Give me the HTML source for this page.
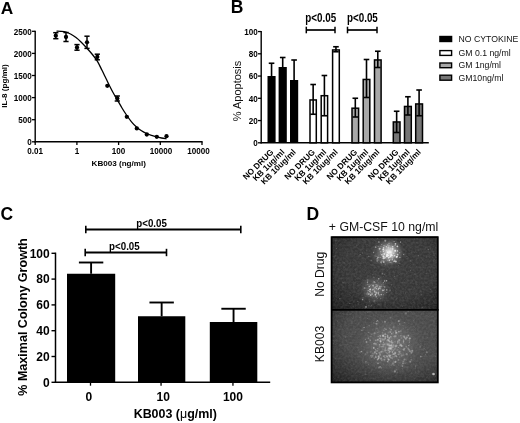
<!DOCTYPE html>
<html><head><meta charset="utf-8"><title>Figure</title>
<style>html,body{margin:0;padding:0;background:#fff}svg{display:block}</style></head>
<body>
<svg width="520" height="423" viewBox="0 0 520 423" font-family="Liberation Sans, Arial, sans-serif">
<rect width="520" height="423" fill="#fff"/>
<text x="0.70" y="13.50" font-size="17.3" font-weight="bold" text-anchor="start" fill="#000" >A</text>
<text x="230.70" y="13.40" font-size="17.5" font-weight="bold" text-anchor="start" fill="#000" >B</text>
<text x="0.60" y="220.20" font-size="17.5" font-weight="bold" text-anchor="start" fill="#000" >C</text>
<text x="306.40" y="220.30" font-size="17.5" font-weight="bold" text-anchor="start" fill="#000" >D</text>
<line x1="35.20" y1="30.70" x2="35.20" y2="142.40" stroke="#000" stroke-width="1.4" />
<line x1="34.60" y1="141.80" x2="202.60" y2="141.80" stroke="#000" stroke-width="1.4" />
<line x1="32.00" y1="141.80" x2="35.20" y2="141.80" stroke="#000" stroke-width="1.3" />
<text transform="translate(31.80,145.00) scale(0.9,1)" font-size="9" font-weight="bold" text-anchor="end" fill="#000">0</text>
<line x1="32.00" y1="119.70" x2="35.20" y2="119.70" stroke="#000" stroke-width="1.3" />
<text transform="translate(31.80,122.90) scale(0.9,1)" font-size="9" font-weight="bold" text-anchor="end" fill="#000">500</text>
<line x1="32.00" y1="97.60" x2="35.20" y2="97.60" stroke="#000" stroke-width="1.3" />
<text transform="translate(31.80,100.80) scale(0.9,1)" font-size="9" font-weight="bold" text-anchor="end" fill="#000">1000</text>
<line x1="32.00" y1="75.50" x2="35.20" y2="75.50" stroke="#000" stroke-width="1.3" />
<text transform="translate(31.80,78.70) scale(0.9,1)" font-size="9" font-weight="bold" text-anchor="end" fill="#000">1500</text>
<line x1="32.00" y1="53.40" x2="35.20" y2="53.40" stroke="#000" stroke-width="1.3" />
<text transform="translate(31.80,56.60) scale(0.9,1)" font-size="9" font-weight="bold" text-anchor="end" fill="#000">2000</text>
<line x1="32.00" y1="31.30" x2="35.20" y2="31.30" stroke="#000" stroke-width="1.3" />
<text transform="translate(31.80,34.50) scale(0.9,1)" font-size="9" font-weight="bold" text-anchor="end" fill="#000">2500</text>
<line x1="35.20" y1="141.80" x2="35.20" y2="145.00" stroke="#000" stroke-width="1.3" />
<text transform="translate(35.20,154.20) scale(0.9,1)" font-size="9" font-weight="bold" text-anchor="middle" fill="#000">0.01</text>
<line x1="76.90" y1="141.80" x2="76.90" y2="145.00" stroke="#000" stroke-width="1.3" />
<text transform="translate(76.90,154.20) scale(0.9,1)" font-size="9" font-weight="bold" text-anchor="middle" fill="#000">1</text>
<line x1="118.60" y1="141.80" x2="118.60" y2="145.00" stroke="#000" stroke-width="1.3" />
<text transform="translate(118.60,154.20) scale(0.9,1)" font-size="9" font-weight="bold" text-anchor="middle" fill="#000">100</text>
<line x1="160.30" y1="141.80" x2="160.30" y2="145.00" stroke="#000" stroke-width="1.3" />
<text transform="translate(160.90,154.20) scale(0.9,1)" font-size="9" font-weight="bold" text-anchor="middle" fill="#000">10000</text>
<line x1="202.00" y1="141.80" x2="202.00" y2="145.00" stroke="#000" stroke-width="1.3" />
<text transform="translate(198.40,154.20) scale(0.9,1)" font-size="9" font-weight="bold" text-anchor="middle" fill="#000">10000</text>
<text x="118.75" y="165.60" font-size="8.1" font-weight="bold" text-anchor="middle" fill="#000" >KB003 (ng/ml)</text>
<text transform="translate(7.40,86.00) rotate(-90)" font-size="8.1" font-weight="bold" text-anchor="middle" fill="#000" >IL-8 (pg/ml)</text>
<path fill="none" stroke="#000" stroke-width="1.3" d="M56.5,31.2 C57.25,31.23 59.42,31.23 61,31.4 C62.58,31.57 64.33,31.72 66,32.2 C67.67,32.68 69.33,33.40 71,34.3 C72.67,35.20 74.33,36.32 76,37.6 C77.67,38.88 79.25,40.32 81,42 C82.75,43.68 84.67,45.70 86.5,47.7 C88.33,49.70 90.20,51.75 92,54 C93.80,56.25 95.63,58.48 97.3,61.2 C98.97,63.92 100.55,67.42 102,70.3 C103.45,73.18 104.60,75.63 106,78.5 C107.40,81.37 109.07,84.87 110.4,87.5 C111.73,90.13 112.85,92.25 114,94.3 C115.15,96.35 115.97,97.52 117.3,99.8 C118.63,102.08 120.47,105.47 122,108 C123.53,110.53 124.92,112.70 126.5,115 C128.08,117.30 129.83,119.80 131.5,121.8 C133.17,123.80 134.83,125.50 136.5,127 C138.17,128.50 139.83,129.72 141.5,130.8 C143.17,131.88 144.83,132.73 146.5,133.5 C148.17,134.27 149.83,134.83 151.5,135.4 C153.17,135.97 154.83,136.47 156.5,136.9 C158.17,137.33 159.83,137.68 161.5,138 C163.17,138.32 165.67,138.67 166.5,138.8"/>
<circle cx="55.8" cy="35.7" r="2.15" fill="#000"/>
<line x1="55.80" y1="32.70" x2="55.80" y2="38.70" stroke="#000" stroke-width="1.5" />
<line x1="53.20" y1="32.70" x2="58.40" y2="32.70" stroke="#000" stroke-width="1.5" />
<line x1="53.20" y1="38.70" x2="58.40" y2="38.70" stroke="#000" stroke-width="1.5" />
<circle cx="66" cy="37" r="2.15" fill="#000"/>
<line x1="66.00" y1="32.50" x2="66.00" y2="41.50" stroke="#000" stroke-width="1.5" />
<line x1="63.40" y1="32.50" x2="68.60" y2="32.50" stroke="#000" stroke-width="1.5" />
<line x1="63.40" y1="41.50" x2="68.60" y2="41.50" stroke="#000" stroke-width="1.5" />
<circle cx="77" cy="47.4" r="2.15" fill="#000"/>
<line x1="77.00" y1="44.60" x2="77.00" y2="50.20" stroke="#000" stroke-width="1.5" />
<line x1="74.40" y1="44.60" x2="79.60" y2="44.60" stroke="#000" stroke-width="1.5" />
<line x1="74.40" y1="50.20" x2="79.60" y2="50.20" stroke="#000" stroke-width="1.5" />
<circle cx="87" cy="42.3" r="2.15" fill="#000"/>
<line x1="87.00" y1="36.20" x2="87.00" y2="48.40" stroke="#000" stroke-width="1.5" />
<line x1="84.40" y1="36.20" x2="89.60" y2="36.20" stroke="#000" stroke-width="1.5" />
<line x1="84.40" y1="48.40" x2="89.60" y2="48.40" stroke="#000" stroke-width="1.5" />
<circle cx="97.3" cy="57" r="2.15" fill="#000"/>
<line x1="97.30" y1="54.20" x2="97.30" y2="59.80" stroke="#000" stroke-width="1.5" />
<line x1="94.70" y1="54.20" x2="99.90" y2="54.20" stroke="#000" stroke-width="1.5" />
<line x1="94.70" y1="59.80" x2="99.90" y2="59.80" stroke="#000" stroke-width="1.5" />
<circle cx="107.3" cy="85.8" r="2.15" fill="#000"/>
<circle cx="117.3" cy="98.5" r="2.15" fill="#000"/>
<line x1="117.30" y1="96.00" x2="117.30" y2="101.00" stroke="#000" stroke-width="1.5" />
<line x1="114.70" y1="96.00" x2="119.90" y2="96.00" stroke="#000" stroke-width="1.5" />
<line x1="114.70" y1="101.00" x2="119.90" y2="101.00" stroke="#000" stroke-width="1.5" />
<circle cx="126.8" cy="116.8" r="2.15" fill="#000"/>
<circle cx="136.8" cy="128.4" r="2.15" fill="#000"/>
<circle cx="146.8" cy="134.5" r="2.15" fill="#000"/>
<circle cx="156.8" cy="136.8" r="2.15" fill="#000"/>
<circle cx="166.5" cy="136.2" r="2.15" fill="#000"/>
<line x1="261.20" y1="30.95" x2="261.20" y2="143.40" stroke="#000" stroke-width="1.4" />
<line x1="260.60" y1="142.80" x2="428.80" y2="142.80" stroke="#000" stroke-width="1.4" />
<line x1="258.00" y1="142.80" x2="261.20" y2="142.80" stroke="#000" stroke-width="1.3" />
<text transform="translate(257.80,146.00) scale(0.9,1)" font-size="9" font-weight="bold" text-anchor="end" fill="#000">0</text>
<line x1="258.00" y1="120.55" x2="261.20" y2="120.55" stroke="#000" stroke-width="1.3" />
<text transform="translate(257.80,123.75) scale(0.9,1)" font-size="9" font-weight="bold" text-anchor="end" fill="#000">20</text>
<line x1="258.00" y1="98.30" x2="261.20" y2="98.30" stroke="#000" stroke-width="1.3" />
<text transform="translate(257.80,101.50) scale(0.9,1)" font-size="9" font-weight="bold" text-anchor="end" fill="#000">40</text>
<line x1="258.00" y1="76.05" x2="261.20" y2="76.05" stroke="#000" stroke-width="1.3" />
<text transform="translate(257.80,79.25) scale(0.9,1)" font-size="9" font-weight="bold" text-anchor="end" fill="#000">60</text>
<line x1="258.00" y1="53.80" x2="261.20" y2="53.80" stroke="#000" stroke-width="1.3" />
<text transform="translate(257.80,57.00) scale(0.9,1)" font-size="9" font-weight="bold" text-anchor="end" fill="#000">80</text>
<line x1="258.00" y1="31.55" x2="261.20" y2="31.55" stroke="#000" stroke-width="1.3" />
<text transform="translate(257.80,34.75) scale(0.9,1)" font-size="9" font-weight="bold" text-anchor="end" fill="#000">100</text>
<text transform="translate(240.60,91.00) rotate(-90)" font-size="11" font-weight="normal" text-anchor="middle" fill="#111" >% Apoptosis</text>
<rect x="267.50" y="76.00" width="8.10" height="66.80" fill="#000" stroke="none" stroke-width="1"/>
<line x1="271.55" y1="63.25" x2="271.55" y2="76.00" stroke="#000" stroke-width="1.6" />
<line x1="268.75" y1="63.25" x2="274.35" y2="63.25" stroke="#000" stroke-width="1.6" />
<rect x="278.60" y="67.00" width="8.20" height="75.80" fill="#000" stroke="none" stroke-width="1"/>
<line x1="282.70" y1="57.50" x2="282.70" y2="67.00" stroke="#000" stroke-width="1.6" />
<line x1="279.90" y1="57.50" x2="285.50" y2="57.50" stroke="#000" stroke-width="1.6" />
<rect x="290.00" y="80.00" width="8.20" height="62.80" fill="#000" stroke="none" stroke-width="1"/>
<line x1="294.10" y1="60.00" x2="294.10" y2="80.00" stroke="#000" stroke-width="1.6" />
<line x1="291.30" y1="60.00" x2="296.90" y2="60.00" stroke="#000" stroke-width="1.6" />
<rect x="310.00" y="99.95" width="6.30" height="42.85" fill="#fff" stroke="#000" stroke-width="1.5"/>
<line x1="313.15" y1="84.50" x2="313.15" y2="114.25" stroke="#000" stroke-width="1.6" />
<line x1="310.35" y1="84.50" x2="315.95" y2="84.50" stroke="#000" stroke-width="1.6" />
<line x1="310.35" y1="114.25" x2="315.95" y2="114.25" stroke="#000" stroke-width="1.6" />
<rect x="321.20" y="95.70" width="6.40" height="47.10" fill="#fff" stroke="#000" stroke-width="1.5"/>
<line x1="324.40" y1="75.50" x2="324.40" y2="115.75" stroke="#000" stroke-width="1.6" />
<line x1="321.60" y1="75.50" x2="327.20" y2="75.50" stroke="#000" stroke-width="1.6" />
<line x1="321.60" y1="115.75" x2="327.20" y2="115.75" stroke="#000" stroke-width="1.6" />
<rect x="332.60" y="49.95" width="6.70" height="92.85" fill="#fff" stroke="#000" stroke-width="1.5"/>
<line x1="335.95" y1="46.75" x2="335.95" y2="51.75" stroke="#000" stroke-width="1.6" />
<line x1="333.15" y1="46.75" x2="338.75" y2="46.75" stroke="#000" stroke-width="1.6" />
<line x1="333.15" y1="51.75" x2="338.75" y2="51.75" stroke="#000" stroke-width="1.6" />
<rect x="352.00" y="108.20" width="6.60" height="34.60" fill="#a8a8a8" stroke="#000" stroke-width="1.5"/>
<line x1="355.30" y1="98.25" x2="355.30" y2="117.00" stroke="#000" stroke-width="1.6" />
<line x1="352.50" y1="98.25" x2="358.10" y2="98.25" stroke="#000" stroke-width="1.6" />
<line x1="352.50" y1="117.00" x2="358.10" y2="117.00" stroke="#000" stroke-width="1.6" />
<rect x="363.20" y="79.45" width="6.60" height="63.35" fill="#a8a8a8" stroke="#000" stroke-width="1.5"/>
<line x1="366.50" y1="59.50" x2="366.50" y2="97.50" stroke="#000" stroke-width="1.6" />
<line x1="363.70" y1="59.50" x2="369.30" y2="59.50" stroke="#000" stroke-width="1.6" />
<line x1="363.70" y1="97.50" x2="369.30" y2="97.50" stroke="#000" stroke-width="1.6" />
<rect x="374.50" y="59.95" width="6.60" height="82.85" fill="#a8a8a8" stroke="#000" stroke-width="1.5"/>
<line x1="377.80" y1="51.25" x2="377.80" y2="67.50" stroke="#000" stroke-width="1.6" />
<line x1="375.00" y1="51.25" x2="380.60" y2="51.25" stroke="#000" stroke-width="1.6" />
<line x1="375.00" y1="67.50" x2="380.60" y2="67.50" stroke="#000" stroke-width="1.6" />
<rect x="393.30" y="121.95" width="6.70" height="20.85" fill="#767676" stroke="#000" stroke-width="1.5"/>
<line x1="396.65" y1="111.25" x2="396.65" y2="132.50" stroke="#000" stroke-width="1.6" />
<line x1="393.85" y1="111.25" x2="399.45" y2="111.25" stroke="#000" stroke-width="1.6" />
<line x1="393.85" y1="132.50" x2="399.45" y2="132.50" stroke="#000" stroke-width="1.6" />
<rect x="404.50" y="106.45" width="6.80" height="36.35" fill="#767676" stroke="#000" stroke-width="1.5"/>
<line x1="407.90" y1="96.75" x2="407.90" y2="115.00" stroke="#000" stroke-width="1.6" />
<line x1="405.10" y1="96.75" x2="410.70" y2="96.75" stroke="#000" stroke-width="1.6" />
<line x1="405.10" y1="115.00" x2="410.70" y2="115.00" stroke="#000" stroke-width="1.6" />
<rect x="415.70" y="103.95" width="6.80" height="38.85" fill="#767676" stroke="#000" stroke-width="1.5"/>
<line x1="419.10" y1="90.00" x2="419.10" y2="115.75" stroke="#000" stroke-width="1.6" />
<line x1="416.30" y1="90.00" x2="421.90" y2="90.00" stroke="#000" stroke-width="1.6" />
<line x1="416.30" y1="115.75" x2="421.90" y2="115.75" stroke="#000" stroke-width="1.6" />
<text transform="translate(273.95,152.60) rotate(-45)" font-size="8.3" font-weight="bold" text-anchor="end" fill="#000" >NO DRUG</text>
<text transform="translate(285.10,152.60) rotate(-45)" font-size="8.3" font-weight="bold" text-anchor="end" fill="#000" >KB 1ug/ml</text>
<text transform="translate(296.50,152.60) rotate(-45)" font-size="8.3" font-weight="bold" text-anchor="end" fill="#000" >KB 10ug/ml</text>
<text transform="translate(315.55,152.60) rotate(-45)" font-size="8.3" font-weight="bold" text-anchor="end" fill="#000" >NO DRUG</text>
<text transform="translate(326.80,152.60) rotate(-45)" font-size="8.3" font-weight="bold" text-anchor="end" fill="#000" >KB 1ug/ml</text>
<text transform="translate(338.35,152.60) rotate(-45)" font-size="8.3" font-weight="bold" text-anchor="end" fill="#000" >KB 10ug/ml</text>
<text transform="translate(357.70,152.60) rotate(-45)" font-size="8.3" font-weight="bold" text-anchor="end" fill="#000" >NO DRUG</text>
<text transform="translate(368.90,152.60) rotate(-45)" font-size="8.3" font-weight="bold" text-anchor="end" fill="#000" >KB 1ug/ml</text>
<text transform="translate(380.20,152.60) rotate(-45)" font-size="8.3" font-weight="bold" text-anchor="end" fill="#000" >KB 10ug/ml</text>
<text transform="translate(399.05,152.60) rotate(-45)" font-size="8.3" font-weight="bold" text-anchor="end" fill="#000" >NO DRUG</text>
<text transform="translate(410.30,152.60) rotate(-45)" font-size="8.3" font-weight="bold" text-anchor="end" fill="#000" >KB 1ug/ml</text>
<text transform="translate(421.50,152.60) rotate(-45)" font-size="8.3" font-weight="bold" text-anchor="end" fill="#000" >KB 10ug/ml</text>
<line x1="306.30" y1="30.00" x2="335.00" y2="30.00" stroke="#000" stroke-width="1.7" />
<line x1="306.30" y1="26.70" x2="306.30" y2="33.30" stroke="#000" stroke-width="1.5" />
<line x1="335.00" y1="26.70" x2="335.00" y2="33.30" stroke="#000" stroke-width="1.5" />
<text transform="translate(320.7,22.3) scale(0.80,1)" font-size="12.3" font-weight="bold" text-anchor="middle">p&lt;0.05</text>
<line x1="347.50" y1="30.00" x2="377.00" y2="30.00" stroke="#000" stroke-width="1.7" />
<line x1="347.50" y1="26.70" x2="347.50" y2="33.30" stroke="#000" stroke-width="1.5" />
<line x1="377.00" y1="26.70" x2="377.00" y2="33.30" stroke="#000" stroke-width="1.5" />
<text transform="translate(362.4,22.3) scale(0.80,1)" font-size="12.3" font-weight="bold" text-anchor="middle">p&lt;0.05</text>
<rect x="439.20" y="35.80" width="13.10" height="6.40" fill="#000" stroke="none" stroke-width="1"/>
<text x="458.50" y="41.80" font-size="8.7" font-weight="normal" text-anchor="start" fill="#111" >NO CYTOKINE</text>
<rect x="439.90" y="50.60" width="11.70" height="4.80" fill="#fff" stroke="#000" stroke-width="1.4"/>
<text x="458.50" y="56.00" font-size="8.7" font-weight="normal" text-anchor="start" fill="#111" >GM 0.1 ng/ml</text>
<rect x="439.90" y="63.00" width="11.70" height="4.70" fill="#a8a8a8" stroke="#000" stroke-width="1.4"/>
<text x="458.50" y="67.90" font-size="8.7" font-weight="normal" text-anchor="start" fill="#111" >GM 1ng/ml</text>
<rect x="439.90" y="75.20" width="11.70" height="5.00" fill="#767676" stroke="#000" stroke-width="1.4"/>
<text x="458.50" y="80.60" font-size="8.7" font-weight="normal" text-anchor="start" fill="#111" >GM10ng/ml</text>
<line x1="55.50" y1="252.60" x2="55.50" y2="383.00" stroke="#000" stroke-width="1.5" />
<line x1="54.80" y1="382.30" x2="270.20" y2="382.30" stroke="#000" stroke-width="1.5" />
<line x1="51.50" y1="382.30" x2="55.50" y2="382.30" stroke="#000" stroke-width="1.4" />
<text x="49.70" y="386.50" font-size="12" font-weight="bold" text-anchor="end" fill="#000" >0</text>
<line x1="51.50" y1="356.50" x2="55.50" y2="356.50" stroke="#000" stroke-width="1.4" />
<text x="49.70" y="360.70" font-size="12" font-weight="bold" text-anchor="end" fill="#000" >20</text>
<line x1="51.50" y1="330.70" x2="55.50" y2="330.70" stroke="#000" stroke-width="1.4" />
<text x="49.70" y="334.90" font-size="12" font-weight="bold" text-anchor="end" fill="#000" >40</text>
<line x1="51.50" y1="304.90" x2="55.50" y2="304.90" stroke="#000" stroke-width="1.4" />
<text x="49.70" y="309.10" font-size="12" font-weight="bold" text-anchor="end" fill="#000" >60</text>
<line x1="51.50" y1="279.10" x2="55.50" y2="279.10" stroke="#000" stroke-width="1.4" />
<text x="49.70" y="283.30" font-size="12" font-weight="bold" text-anchor="end" fill="#000" >80</text>
<line x1="51.50" y1="253.30" x2="55.50" y2="253.30" stroke="#000" stroke-width="1.4" />
<text x="49.70" y="257.50" font-size="12" font-weight="bold" text-anchor="end" fill="#000" >100</text>
<rect x="67.00" y="273.75" width="48.20" height="108.55" fill="#000" stroke="none" stroke-width="1"/>
<line x1="91.10" y1="262.50" x2="91.10" y2="273.75" stroke="#000" stroke-width="1.9" />
<line x1="78.90" y1="262.50" x2="103.30" y2="262.50" stroke="#000" stroke-width="1.9" />
<line x1="90.50" y1="382.30" x2="90.50" y2="385.70" stroke="#000" stroke-width="1.3" />
<text x="88.80" y="401.40" font-size="12" font-weight="bold" text-anchor="middle" fill="#000" >0</text>
<rect x="138.00" y="316.25" width="47.30" height="66.05" fill="#000" stroke="none" stroke-width="1"/>
<line x1="161.65" y1="302.50" x2="161.65" y2="316.25" stroke="#000" stroke-width="1.9" />
<line x1="149.45" y1="302.50" x2="173.85" y2="302.50" stroke="#000" stroke-width="1.9" />
<line x1="161.05" y1="382.30" x2="161.05" y2="385.70" stroke="#000" stroke-width="1.3" />
<text x="163.20" y="401.40" font-size="12" font-weight="bold" text-anchor="middle" fill="#000" >10</text>
<rect x="209.80" y="322.00" width="47.50" height="60.30" fill="#000" stroke="none" stroke-width="1"/>
<line x1="233.55" y1="308.75" x2="233.55" y2="322.00" stroke="#000" stroke-width="1.9" />
<line x1="221.35" y1="308.75" x2="245.75" y2="308.75" stroke="#000" stroke-width="1.9" />
<line x1="232.95" y1="382.30" x2="232.95" y2="385.70" stroke="#000" stroke-width="1.3" />
<text x="232.90" y="401.40" font-size="12" font-weight="bold" text-anchor="middle" fill="#000" >100</text>
<text transform="translate(27.40,317.00) rotate(-90)" font-size="12.2" font-weight="bold" text-anchor="middle" fill="#000" textLength="157.5" lengthAdjust="spacingAndGlyphs">% Maximal Colony Growth</text>
<text x="175.3" y="418" font-size="12.3" font-weight="bold" text-anchor="middle" textLength="83.3" lengthAdjust="spacingAndGlyphs">KB003 (<tspan font-weight="normal">μ</tspan>g/ml)</text>
<line x1="85.80" y1="229.50" x2="240.80" y2="229.50" stroke="#000" stroke-width="1.9" />
<line x1="85.80" y1="225.80" x2="85.80" y2="233.20" stroke="#000" stroke-width="1.6" />
<line x1="240.80" y1="225.80" x2="240.80" y2="233.20" stroke="#000" stroke-width="1.6" />
<text transform="translate(151.6,227.0) scale(0.84,1)" font-size="11.6" font-weight="bold" text-anchor="middle">p&lt;0.05</text>
<line x1="85.20" y1="252.50" x2="166.50" y2="252.50" stroke="#000" stroke-width="1.9" />
<line x1="85.20" y1="248.80" x2="85.20" y2="256.20" stroke="#000" stroke-width="1.6" />
<line x1="166.50" y1="248.80" x2="166.50" y2="256.20" stroke="#000" stroke-width="1.6" />
<text transform="translate(124.4,250.0) scale(0.84,1)" font-size="11.6" font-weight="bold" text-anchor="middle">p&lt;0.05</text>
<text x="328.80" y="231.00" font-size="12.3" font-weight="normal" text-anchor="start" fill="#111" textLength="109.5" lengthAdjust="spacingAndGlyphs">+ GM-CSF 10 ng/ml</text>
<text transform="translate(323.60,274.30) rotate(-90)" font-size="12.1" font-weight="normal" text-anchor="middle" fill="#111" >No Drug</text>
<text transform="translate(324.30,344.00) rotate(-90)" font-size="12.1" font-weight="normal" text-anchor="middle" fill="#111" >KB003</text>
<defs>
<radialGradient id="g1"><stop offset="0" stop-color="#fff" stop-opacity="0.95"/><stop offset="0.25" stop-color="#e8e8e8" stop-opacity="0.7"/><stop offset="0.6" stop-color="#aaa" stop-opacity="0.3"/><stop offset="1" stop-color="#777" stop-opacity="0"/></radialGradient>
<radialGradient id="g2"><stop offset="0" stop-color="#ddd" stop-opacity="0.5"/><stop offset="0.45" stop-color="#bbb" stop-opacity="0.3"/><stop offset="1" stop-color="#777" stop-opacity="0"/></radialGradient>
<radialGradient id="g3"><stop offset="0" stop-color="#ccc" stop-opacity="0.30"/><stop offset="0.55" stop-color="#aaa" stop-opacity="0.18"/><stop offset="1" stop-color="#777" stop-opacity="0"/></radialGradient>
<radialGradient id="vg" cx="0.55" cy="0.4" r="0.8"><stop offset="0" stop-color="#000" stop-opacity="0"/><stop offset="0.55" stop-color="#000" stop-opacity="0.06"/><stop offset="1" stop-color="#000" stop-opacity="0.5"/></radialGradient>
<radialGradient id="vg2" cx="0.6" cy="0.35" r="0.85"><stop offset="0" stop-color="#000" stop-opacity="0"/><stop offset="0.55" stop-color="#000" stop-opacity="0.08"/><stop offset="1" stop-color="#000" stop-opacity="0.6"/></radialGradient>
<filter id="nz" x="0" y="0" width="1" height="1"><feTurbulence type="fractalNoise" baseFrequency="0.45" numOctaves="2" seed="4"/><feColorMatrix type="matrix" values="0 0 0 0 1  0 0 0 0 1  0 0 0 0 1  0.9 0.9 0.9 0 -1.05"/></filter>
<filter id="bl" x="-0.1" y="-0.1" width="1.2" height="1.2"><feGaussianBlur stdDeviation="0.35"/></filter>
<clipPath id="c1"><rect x="331.5" y="236.5" width="106.5" height="73"/></clipPath>
<clipPath id="c2"><rect x="331.5" y="309.5" width="106.5" height="73"/></clipPath>
</defs>
<rect x="331.50" y="236.50" width="106.50" height="73.00" fill="#393939" stroke="none" stroke-width="1"/>
<g clip-path="url(#c1)">
<rect x="331.5" y="236.5" width="106.5" height="73" fill="url(#vg)"/>
<rect x="331.5" y="236.5" width="106.5" height="73" filter="url(#nz)" opacity="0.13"/>
<ellipse cx="387" cy="254" rx="19" ry="16" fill="url(#g2)" opacity="0.7"/>
<ellipse cx="389.5" cy="252" rx="14.5" ry="14" fill="url(#g1)"/>
<ellipse cx="375" cy="289.5" rx="17" ry="16" fill="url(#g2)" opacity="0.75"/>
<g filter="url(#bl)">
<circle cx="387.5" cy="255.6" r="0.79" fill="#fff" fill-opacity="0.34"/>
<circle cx="383.4" cy="251.2" r="0.43" fill="#fff" fill-opacity="0.55"/>
<circle cx="395.2" cy="254.0" r="0.44" fill="#fff" fill-opacity="0.35"/>
<circle cx="379.0" cy="257.6" r="0.47" fill="#fff" fill-opacity="0.41"/>
<circle cx="378.9" cy="242.0" r="0.75" fill="#fff" fill-opacity="0.50"/>
<circle cx="390.8" cy="252.2" r="0.92" fill="#fff" fill-opacity="0.44"/>
<circle cx="390.9" cy="254.9" r="0.59" fill="#fff" fill-opacity="0.71"/>
<circle cx="392.3" cy="259.7" r="0.78" fill="#fff" fill-opacity="0.49"/>
<circle cx="386.9" cy="251.9" r="0.44" fill="#fff" fill-opacity="0.40"/>
<circle cx="386.3" cy="246.8" r="0.59" fill="#fff" fill-opacity="0.59"/>
<circle cx="384.2" cy="254.0" r="0.88" fill="#fff" fill-opacity="0.65"/>
<circle cx="389.3" cy="260.3" r="0.72" fill="#fff" fill-opacity="0.74"/>
<circle cx="388.4" cy="247.6" r="0.99" fill="#fff" fill-opacity="0.36"/>
<circle cx="380.2" cy="257.5" r="0.49" fill="#fff" fill-opacity="0.54"/>
<circle cx="397.6" cy="254.7" r="0.86" fill="#fff" fill-opacity="0.59"/>
<circle cx="392.7" cy="248.8" r="0.82" fill="#fff" fill-opacity="0.60"/>
<circle cx="383.2" cy="249.3" r="0.90" fill="#fff" fill-opacity="0.77"/>
<circle cx="380.3" cy="253.9" r="0.44" fill="#fff" fill-opacity="0.65"/>
<circle cx="377.6" cy="237.4" r="0.89" fill="#fff" fill-opacity="0.44"/>
<circle cx="382.3" cy="258.4" r="0.41" fill="#fff" fill-opacity="0.53"/>
<circle cx="390.5" cy="255.1" r="0.44" fill="#fff" fill-opacity="0.68"/>
<circle cx="392.1" cy="255.8" r="0.63" fill="#fff" fill-opacity="0.74"/>
<circle cx="394.7" cy="255.7" r="0.73" fill="#fff" fill-opacity="0.74"/>
<circle cx="394.1" cy="241.6" r="0.57" fill="#fff" fill-opacity="0.51"/>
<circle cx="381.1" cy="262.2" r="0.97" fill="#fff" fill-opacity="0.38"/>
<circle cx="390.9" cy="256.4" r="0.54" fill="#fff" fill-opacity="0.54"/>
<circle cx="385.0" cy="250.0" r="0.40" fill="#fff" fill-opacity="0.51"/>
<circle cx="383.7" cy="258.2" r="0.97" fill="#fff" fill-opacity="0.65"/>
<circle cx="380.7" cy="251.7" r="0.81" fill="#fff" fill-opacity="0.33"/>
<circle cx="397.4" cy="246.3" r="0.92" fill="#fff" fill-opacity="0.70"/>
<circle cx="384.3" cy="256.3" r="0.46" fill="#fff" fill-opacity="0.62"/>
<circle cx="391.1" cy="253.4" r="0.53" fill="#fff" fill-opacity="0.38"/>
<circle cx="387.9" cy="254.2" r="0.40" fill="#fff" fill-opacity="0.38"/>
<circle cx="393.6" cy="255.9" r="0.42" fill="#fff" fill-opacity="0.74"/>
<circle cx="386.4" cy="250.3" r="0.55" fill="#fff" fill-opacity="0.47"/>
<circle cx="387.0" cy="254.8" r="0.91" fill="#fff" fill-opacity="0.80"/>
<circle cx="382.3" cy="254.0" r="0.45" fill="#fff" fill-opacity="0.35"/>
<circle cx="386.4" cy="256.4" r="0.90" fill="#fff" fill-opacity="0.38"/>
<circle cx="403.6" cy="254.6" r="0.72" fill="#fff" fill-opacity="0.37"/>
<circle cx="387.6" cy="252.1" r="0.72" fill="#fff" fill-opacity="0.79"/>
<circle cx="395.1" cy="245.5" r="0.56" fill="#fff" fill-opacity="0.48"/>
<circle cx="394.1" cy="261.4" r="0.72" fill="#fff" fill-opacity="0.69"/>
<circle cx="387.0" cy="256.2" r="0.89" fill="#fff" fill-opacity="0.79"/>
<circle cx="395.5" cy="243.8" r="0.89" fill="#fff" fill-opacity="0.67"/>
<circle cx="390.1" cy="259.7" r="0.61" fill="#fff" fill-opacity="0.31"/>
<circle cx="393.8" cy="253.3" r="0.56" fill="#fff" fill-opacity="0.65"/>
<circle cx="395.3" cy="250.7" r="0.96" fill="#fff" fill-opacity="0.79"/>
<circle cx="394.5" cy="250.9" r="0.53" fill="#fff" fill-opacity="0.41"/>
<circle cx="390.3" cy="256.3" r="0.77" fill="#fff" fill-opacity="0.75"/>
<circle cx="392.7" cy="246.7" r="0.79" fill="#fff" fill-opacity="0.70"/>
<circle cx="396.6" cy="257.0" r="0.95" fill="#fff" fill-opacity="0.69"/>
<circle cx="389.0" cy="245.7" r="0.51" fill="#fff" fill-opacity="0.69"/>
<circle cx="383.7" cy="261.9" r="0.98" fill="#fff" fill-opacity="0.50"/>
<circle cx="377.2" cy="260.9" r="0.83" fill="#fff" fill-opacity="0.39"/>
<circle cx="391.4" cy="255.0" r="0.94" fill="#fff" fill-opacity="0.70"/>
<circle cx="395.8" cy="261.4" r="0.99" fill="#fff" fill-opacity="0.63"/>
<circle cx="384.5" cy="258.6" r="0.48" fill="#fff" fill-opacity="0.31"/>
<circle cx="397.5" cy="250.9" r="0.72" fill="#fff" fill-opacity="0.77"/>
<circle cx="377.9" cy="257.4" r="0.90" fill="#fff" fill-opacity="0.41"/>
<circle cx="388.9" cy="257.5" r="0.54" fill="#fff" fill-opacity="0.59"/>
<circle cx="388.6" cy="258.7" r="0.48" fill="#fff" fill-opacity="0.76"/>
<circle cx="385.0" cy="257.8" r="0.75" fill="#fff" fill-opacity="0.75"/>
<circle cx="377.2" cy="258.9" r="0.70" fill="#fff" fill-opacity="0.57"/>
<circle cx="387.8" cy="252.3" r="0.66" fill="#fff" fill-opacity="0.39"/>
<circle cx="399.7" cy="252.8" r="0.50" fill="#fff" fill-opacity="0.54"/>
<circle cx="387.8" cy="244.9" r="0.60" fill="#fff" fill-opacity="0.56"/>
<circle cx="379.1" cy="248.9" r="0.46" fill="#fff" fill-opacity="0.58"/>
<circle cx="389.0" cy="257.3" r="0.86" fill="#fff" fill-opacity="0.55"/>
<circle cx="379.6" cy="248.7" r="0.95" fill="#fff" fill-opacity="0.52"/>
<circle cx="383.6" cy="247.9" r="0.71" fill="#fff" fill-opacity="0.65"/>
<circle cx="381.9" cy="254.7" r="0.69" fill="#fff" fill-opacity="0.77"/>
<circle cx="385.2" cy="240.8" r="0.97" fill="#fff" fill-opacity="0.43"/>
<circle cx="375.6" cy="247.2" r="0.90" fill="#fff" fill-opacity="0.37"/>
<circle cx="393.7" cy="257.0" r="0.44" fill="#fff" fill-opacity="0.42"/>
<circle cx="397.0" cy="256.5" r="0.87" fill="#fff" fill-opacity="0.75"/>
<circle cx="394.4" cy="260.4" r="0.80" fill="#fff" fill-opacity="0.37"/>
<circle cx="400.6" cy="242.0" r="0.53" fill="#fff" fill-opacity="0.78"/>
<circle cx="383.4" cy="256.6" r="0.99" fill="#fff" fill-opacity="0.72"/>
<circle cx="392.4" cy="257.9" r="0.71" fill="#fff" fill-opacity="0.47"/>
<circle cx="390.8" cy="257.5" r="0.83" fill="#fff" fill-opacity="0.31"/>
<circle cx="382.9" cy="250.3" r="0.41" fill="#fff" fill-opacity="0.47"/>
<circle cx="383.9" cy="247.5" r="0.44" fill="#fff" fill-opacity="0.79"/>
<circle cx="392.7" cy="255.4" r="0.42" fill="#fff" fill-opacity="0.69"/>
<circle cx="388.6" cy="255.6" r="0.65" fill="#fff" fill-opacity="0.76"/>
<circle cx="390.9" cy="248.3" r="0.49" fill="#fff" fill-opacity="0.76"/>
<circle cx="380.6" cy="248.5" r="0.45" fill="#fff" fill-opacity="0.33"/>
<circle cx="386.6" cy="246.7" r="0.44" fill="#fff" fill-opacity="0.77"/>
<circle cx="381.8" cy="244.4" r="0.45" fill="#fff" fill-opacity="0.73"/>
<circle cx="399.9" cy="257.4" r="0.67" fill="#fff" fill-opacity="0.47"/>
<circle cx="366.7" cy="250.8" r="0.51" fill="#fff" fill-opacity="0.19"/>
<circle cx="378.2" cy="255.1" r="0.44" fill="#fff" fill-opacity="0.20"/>
<circle cx="389.1" cy="257.5" r="0.52" fill="#fff" fill-opacity="0.24"/>
<circle cx="384.4" cy="250.2" r="0.60" fill="#fff" fill-opacity="0.20"/>
<circle cx="383.1" cy="257.1" r="0.50" fill="#fff" fill-opacity="0.15"/>
<circle cx="382.9" cy="247.2" r="0.48" fill="#fff" fill-opacity="0.29"/>
<circle cx="387.5" cy="254.7" r="0.73" fill="#fff" fill-opacity="0.28"/>
<circle cx="368.8" cy="256.4" r="0.56" fill="#fff" fill-opacity="0.30"/>
<circle cx="375.3" cy="237.6" r="0.54" fill="#fff" fill-opacity="0.40"/>
<circle cx="380.9" cy="246.4" r="0.56" fill="#fff" fill-opacity="0.25"/>
<circle cx="388.0" cy="257.2" r="0.43" fill="#fff" fill-opacity="0.37"/>
<circle cx="383.8" cy="260.2" r="0.43" fill="#fff" fill-opacity="0.40"/>
<circle cx="392.2" cy="248.4" r="0.51" fill="#fff" fill-opacity="0.22"/>
<circle cx="381.6" cy="263.5" r="0.46" fill="#fff" fill-opacity="0.28"/>
<circle cx="382.3" cy="273.8" r="0.79" fill="#fff" fill-opacity="0.31"/>
<circle cx="384.7" cy="274.2" r="0.52" fill="#fff" fill-opacity="0.26"/>
<circle cx="391.8" cy="256.0" r="0.59" fill="#fff" fill-opacity="0.30"/>
<circle cx="386.9" cy="263.9" r="0.40" fill="#fff" fill-opacity="0.23"/>
<circle cx="390.8" cy="259.8" r="0.42" fill="#fff" fill-opacity="0.16"/>
<circle cx="382.1" cy="260.8" r="0.63" fill="#fff" fill-opacity="0.31"/>
<circle cx="384.0" cy="245.8" r="0.69" fill="#fff" fill-opacity="0.41"/>
<circle cx="378.5" cy="260.0" r="0.79" fill="#fff" fill-opacity="0.19"/>
<circle cx="382.1" cy="246.1" r="0.42" fill="#fff" fill-opacity="0.40"/>
<circle cx="392.7" cy="249.8" r="0.69" fill="#fff" fill-opacity="0.39"/>
<circle cx="390.2" cy="262.5" r="0.60" fill="#fff" fill-opacity="0.40"/>
<circle cx="389.0" cy="243.7" r="0.63" fill="#fff" fill-opacity="0.42"/>
<circle cx="379.0" cy="246.2" r="0.49" fill="#fff" fill-opacity="0.16"/>
<circle cx="389.1" cy="260.9" r="0.44" fill="#fff" fill-opacity="0.40"/>
<circle cx="373.5" cy="252.5" r="0.65" fill="#fff" fill-opacity="0.35"/>
<circle cx="383.3" cy="256.0" r="0.72" fill="#fff" fill-opacity="0.37"/>
<circle cx="374.1" cy="255.8" r="0.66" fill="#fff" fill-opacity="0.17"/>
<circle cx="383.5" cy="250.7" r="0.43" fill="#fff" fill-opacity="0.23"/>
<circle cx="383.3" cy="251.3" r="0.70" fill="#fff" fill-opacity="0.44"/>
<circle cx="376.1" cy="256.3" r="0.59" fill="#fff" fill-opacity="0.36"/>
<circle cx="385.2" cy="246.4" r="0.66" fill="#fff" fill-opacity="0.17"/>
<circle cx="387.7" cy="260.3" r="0.70" fill="#fff" fill-opacity="0.24"/>
<circle cx="382.8" cy="255.5" r="0.42" fill="#fff" fill-opacity="0.23"/>
<circle cx="378.2" cy="246.5" r="0.67" fill="#fff" fill-opacity="0.24"/>
<circle cx="375.1" cy="255.2" r="0.59" fill="#fff" fill-opacity="0.19"/>
<circle cx="388.2" cy="253.1" r="0.79" fill="#fff" fill-opacity="0.43"/>
<circle cx="382.7" cy="290.4" r="0.81" fill="#fff" fill-opacity="0.49"/>
<circle cx="369.7" cy="291.2" r="0.50" fill="#fff" fill-opacity="0.48"/>
<circle cx="377.3" cy="298.5" r="0.47" fill="#fff" fill-opacity="0.32"/>
<circle cx="378.6" cy="288.4" r="0.81" fill="#fff" fill-opacity="0.31"/>
<circle cx="383.3" cy="282.4" r="0.52" fill="#fff" fill-opacity="0.46"/>
<circle cx="373.4" cy="289.6" r="0.40" fill="#fff" fill-opacity="0.31"/>
<circle cx="369.3" cy="291.3" r="0.47" fill="#fff" fill-opacity="0.25"/>
<circle cx="369.6" cy="301.8" r="0.40" fill="#fff" fill-opacity="0.41"/>
<circle cx="376.9" cy="286.5" r="0.86" fill="#fff" fill-opacity="0.39"/>
<circle cx="379.7" cy="286.1" r="0.59" fill="#fff" fill-opacity="0.27"/>
<circle cx="384.3" cy="289.4" r="0.58" fill="#fff" fill-opacity="0.28"/>
<circle cx="374.7" cy="291.7" r="0.45" fill="#fff" fill-opacity="0.44"/>
<circle cx="371.4" cy="305.5" r="0.52" fill="#fff" fill-opacity="0.22"/>
<circle cx="370.5" cy="289.2" r="0.59" fill="#fff" fill-opacity="0.48"/>
<circle cx="384.6" cy="281.0" r="0.72" fill="#fff" fill-opacity="0.47"/>
<circle cx="383.2" cy="286.3" r="0.76" fill="#fff" fill-opacity="0.14"/>
<circle cx="374.2" cy="281.9" r="0.78" fill="#fff" fill-opacity="0.36"/>
<circle cx="374.5" cy="291.7" r="0.86" fill="#fff" fill-opacity="0.17"/>
<circle cx="368.7" cy="290.6" r="0.55" fill="#fff" fill-opacity="0.40"/>
<circle cx="380.4" cy="288.7" r="0.73" fill="#fff" fill-opacity="0.23"/>
<circle cx="368.4" cy="287.0" r="0.48" fill="#fff" fill-opacity="0.18"/>
<circle cx="379.0" cy="304.2" r="0.65" fill="#fff" fill-opacity="0.20"/>
<circle cx="394.6" cy="276.4" r="0.62" fill="#fff" fill-opacity="0.17"/>
<circle cx="376.1" cy="292.4" r="0.57" fill="#fff" fill-opacity="0.15"/>
<circle cx="375.4" cy="294.9" r="0.68" fill="#fff" fill-opacity="0.46"/>
<circle cx="375.0" cy="282.3" r="0.61" fill="#fff" fill-opacity="0.32"/>
<circle cx="370.5" cy="293.9" r="0.43" fill="#fff" fill-opacity="0.23"/>
<circle cx="378.6" cy="288.8" r="0.65" fill="#fff" fill-opacity="0.36"/>
<circle cx="378.2" cy="285.8" r="0.54" fill="#fff" fill-opacity="0.21"/>
<circle cx="368.9" cy="294.0" r="0.88" fill="#fff" fill-opacity="0.44"/>
<circle cx="376.0" cy="288.4" r="0.42" fill="#fff" fill-opacity="0.39"/>
<circle cx="381.3" cy="284.7" r="0.69" fill="#fff" fill-opacity="0.12"/>
<circle cx="362.6" cy="299.6" r="0.81" fill="#fff" fill-opacity="0.45"/>
<circle cx="380.2" cy="288.6" r="0.45" fill="#fff" fill-opacity="0.18"/>
<circle cx="364.5" cy="288.0" r="0.87" fill="#fff" fill-opacity="0.39"/>
<circle cx="367.8" cy="280.0" r="0.63" fill="#fff" fill-opacity="0.33"/>
<circle cx="386.8" cy="292.5" r="0.52" fill="#fff" fill-opacity="0.47"/>
<circle cx="371.4" cy="284.8" r="0.46" fill="#fff" fill-opacity="0.22"/>
<circle cx="367.9" cy="281.3" r="0.46" fill="#fff" fill-opacity="0.15"/>
<circle cx="365.9" cy="288.1" r="0.59" fill="#fff" fill-opacity="0.20"/>
<circle cx="374.2" cy="288.9" r="0.55" fill="#fff" fill-opacity="0.30"/>
<circle cx="384.7" cy="286.9" r="0.84" fill="#fff" fill-opacity="0.30"/>
<circle cx="375.5" cy="294.7" r="0.88" fill="#fff" fill-opacity="0.39"/>
<circle cx="374.5" cy="290.9" r="0.65" fill="#fff" fill-opacity="0.38"/>
<circle cx="370.3" cy="292.1" r="0.73" fill="#fff" fill-opacity="0.47"/>
<circle cx="375.3" cy="291.3" r="0.57" fill="#fff" fill-opacity="0.28"/>
<circle cx="373.1" cy="285.3" r="0.80" fill="#fff" fill-opacity="0.40"/>
<circle cx="370.3" cy="289.4" r="0.88" fill="#fff" fill-opacity="0.24"/>
<circle cx="377.2" cy="284.9" r="0.51" fill="#fff" fill-opacity="0.41"/>
<circle cx="370.2" cy="306.1" r="0.65" fill="#fff" fill-opacity="0.19"/>
<circle cx="376.2" cy="296.7" r="0.73" fill="#fff" fill-opacity="0.48"/>
<circle cx="379.2" cy="295.1" r="0.51" fill="#fff" fill-opacity="0.49"/>
<circle cx="376.4" cy="291.3" r="0.43" fill="#fff" fill-opacity="0.27"/>
<circle cx="386.6" cy="280.8" r="0.77" fill="#fff" fill-opacity="0.50"/>
<circle cx="380.7" cy="286.9" r="0.49" fill="#fff" fill-opacity="0.48"/>
<circle cx="375.0" cy="287.7" r="0.73" fill="#fff" fill-opacity="0.26"/>
<circle cx="370.6" cy="294.0" r="0.48" fill="#fff" fill-opacity="0.12"/>
<circle cx="373.8" cy="295.9" r="0.88" fill="#fff" fill-opacity="0.17"/>
<circle cx="379.7" cy="288.4" r="0.58" fill="#fff" fill-opacity="0.43"/>
<circle cx="378.3" cy="282.8" r="0.42" fill="#fff" fill-opacity="0.30"/>
<circle cx="364.0" cy="300.8" r="0.50" fill="#fff" fill-opacity="0.26"/>
<circle cx="376.4" cy="288.5" r="0.61" fill="#fff" fill-opacity="0.43"/>
<circle cx="375.2" cy="287.5" r="0.42" fill="#fff" fill-opacity="0.14"/>
<circle cx="379.7" cy="286.9" r="0.77" fill="#fff" fill-opacity="0.46"/>
<circle cx="372.0" cy="294.2" r="0.88" fill="#fff" fill-opacity="0.35"/>
<circle cx="374.2" cy="300.6" r="0.56" fill="#fff" fill-opacity="0.22"/>
<circle cx="386.7" cy="289.8" r="0.86" fill="#fff" fill-opacity="0.36"/>
<circle cx="376.5" cy="289.0" r="0.52" fill="#fff" fill-opacity="0.30"/>
<circle cx="391.7" cy="284.8" r="0.59" fill="#fff" fill-opacity="0.22"/>
<circle cx="367.6" cy="293.0" r="0.86" fill="#fff" fill-opacity="0.19"/>
<circle cx="378.7" cy="278.7" r="0.81" fill="#fff" fill-opacity="0.41"/>
<circle cx="370.1" cy="285.6" r="0.56" fill="#fff" fill-opacity="0.26"/>
<circle cx="375.6" cy="286.7" r="0.50" fill="#fff" fill-opacity="0.41"/>
<circle cx="375.0" cy="292.1" r="0.42" fill="#fff" fill-opacity="0.33"/>
<circle cx="366.0" cy="306.9" r="0.84" fill="#fff" fill-opacity="0.50"/>
<circle cx="374.7" cy="292.4" r="0.45" fill="#fff" fill-opacity="0.31"/>
<circle cx="373.1" cy="282.1" r="0.52" fill="#fff" fill-opacity="0.28"/>
<circle cx="367.4" cy="282.3" r="0.77" fill="#fff" fill-opacity="0.44"/>
<circle cx="373.2" cy="286.4" r="0.82" fill="#fff" fill-opacity="0.23"/>
<circle cx="368.8" cy="286.7" r="0.77" fill="#fff" fill-opacity="0.20"/>
<circle cx="375.1" cy="294.8" r="0.48" fill="#fff" fill-opacity="0.46"/>
<circle cx="369.5" cy="286.6" r="0.60" fill="#fff" fill-opacity="0.50"/>
<circle cx="369.9" cy="289.3" r="0.80" fill="#fff" fill-opacity="0.37"/>
<circle cx="378.2" cy="289.3" r="0.64" fill="#fff" fill-opacity="0.43"/>
<circle cx="383.4" cy="276.4" r="0.42" fill="#fff" fill-opacity="0.23"/>
<circle cx="378.3" cy="292.6" r="0.89" fill="#fff" fill-opacity="0.34"/>
<circle cx="381.1" cy="286.6" r="0.83" fill="#fff" fill-opacity="0.29"/>
<circle cx="374.2" cy="301.6" r="0.87" fill="#fff" fill-opacity="0.16"/>
<circle cx="367.0" cy="284.0" r="0.51" fill="#fff" fill-opacity="0.26"/>
<circle cx="378.0" cy="293.2" r="0.53" fill="#fff" fill-opacity="0.35"/>
<circle cx="372.3" cy="285.7" r="0.41" fill="#fff" fill-opacity="0.24"/>
<circle cx="373.1" cy="285.5" r="0.56" fill="#fff" fill-opacity="0.20"/>
<circle cx="377.5" cy="281.0" r="0.43" fill="#fff" fill-opacity="0.16"/>
<circle cx="368.0" cy="294.9" r="0.72" fill="#fff" fill-opacity="0.15"/>
<circle cx="380.6" cy="298.7" r="0.60" fill="#fff" fill-opacity="0.23"/>
<circle cx="368.9" cy="305.7" r="0.56" fill="#fff" fill-opacity="0.34"/>
<circle cx="370.5" cy="295.2" r="0.83" fill="#fff" fill-opacity="0.50"/>
<circle cx="372.0" cy="293.0" r="0.76" fill="#fff" fill-opacity="0.20"/>
<circle cx="390.1" cy="290.1" r="0.61" fill="#fff" fill-opacity="0.43"/>
<circle cx="362.9" cy="297.6" r="0.63" fill="#fff" fill-opacity="0.18"/>
<circle cx="383.8" cy="290.3" r="0.72" fill="#fff" fill-opacity="0.47"/>
<circle cx="383.3" cy="294.7" r="0.59" fill="#fff" fill-opacity="0.31"/>
<circle cx="378.5" cy="294.0" r="0.66" fill="#fff" fill-opacity="0.47"/>
<circle cx="381.3" cy="294.6" r="0.80" fill="#fff" fill-opacity="0.49"/>
<circle cx="376.2" cy="292.9" r="0.87" fill="#fff" fill-opacity="0.49"/>
<circle cx="372.7" cy="289.8" r="0.86" fill="#fff" fill-opacity="0.27"/>
<circle cx="383.0" cy="284.0" r="0.81" fill="#fff" fill-opacity="0.18"/>
<circle cx="376.1" cy="284.7" r="0.60" fill="#fff" fill-opacity="0.44"/>
<circle cx="377.1" cy="285.6" r="0.51" fill="#fff" fill-opacity="0.27"/>
<circle cx="368.2" cy="288.7" r="0.46" fill="#fff" fill-opacity="0.21"/>
<circle cx="372.7" cy="274.8" r="0.42" fill="#fff" fill-opacity="0.33"/>
<circle cx="375.1" cy="287.6" r="0.82" fill="#fff" fill-opacity="0.16"/>
<circle cx="367.8" cy="284.3" r="0.71" fill="#fff" fill-opacity="0.24"/>
<circle cx="366.9" cy="294.0" r="0.61" fill="#fff" fill-opacity="0.37"/>
<circle cx="367.9" cy="292.0" r="0.41" fill="#fff" fill-opacity="0.36"/>
<circle cx="369.9" cy="289.8" r="0.78" fill="#fff" fill-opacity="0.42"/>
<circle cx="370.7" cy="290.6" r="0.64" fill="#fff" fill-opacity="0.16"/>
<circle cx="380.1" cy="294.9" r="0.45" fill="#fff" fill-opacity="0.29"/>
<circle cx="373.0" cy="289.4" r="0.72" fill="#fff" fill-opacity="0.15"/>
<circle cx="373.7" cy="277.4" r="0.66" fill="#fff" fill-opacity="0.14"/>
<circle cx="385.4" cy="264.5" r="0.68" fill="#fff" fill-opacity="0.11"/>
<circle cx="422.1" cy="307.7" r="0.59" fill="#fff" fill-opacity="0.26"/>
<circle cx="353.1" cy="306.7" r="0.50" fill="#fff" fill-opacity="0.29"/>
<circle cx="428.3" cy="249.6" r="0.62" fill="#fff" fill-opacity="0.28"/>
<circle cx="339.8" cy="262.6" r="0.60" fill="#fff" fill-opacity="0.11"/>
<circle cx="426.2" cy="257.2" r="0.63" fill="#fff" fill-opacity="0.11"/>
<circle cx="385.2" cy="302.4" r="0.38" fill="#fff" fill-opacity="0.14"/>
<circle cx="385.6" cy="260.3" r="0.31" fill="#fff" fill-opacity="0.12"/>
<circle cx="349.8" cy="303.5" r="0.57" fill="#fff" fill-opacity="0.28"/>
<circle cx="350.5" cy="292.9" r="0.35" fill="#fff" fill-opacity="0.20"/>
<circle cx="399.2" cy="263.2" r="0.65" fill="#fff" fill-opacity="0.20"/>
<circle cx="393.3" cy="299.8" r="0.34" fill="#fff" fill-opacity="0.30"/>
<circle cx="398.5" cy="265.6" r="0.62" fill="#fff" fill-opacity="0.14"/>
<circle cx="436.0" cy="278.4" r="0.44" fill="#fff" fill-opacity="0.25"/>
<circle cx="379.0" cy="250.4" r="0.60" fill="#fff" fill-opacity="0.09"/>
<circle cx="418.3" cy="255.8" r="0.56" fill="#fff" fill-opacity="0.30"/>
<circle cx="393.9" cy="284.5" r="0.43" fill="#fff" fill-opacity="0.08"/>
<circle cx="336.5" cy="248.5" r="0.55" fill="#fff" fill-opacity="0.18"/>
<circle cx="386.3" cy="300.7" r="0.35" fill="#fff" fill-opacity="0.13"/>
<circle cx="400.9" cy="239.6" r="0.30" fill="#fff" fill-opacity="0.16"/>
<circle cx="344.1" cy="263.0" r="0.39" fill="#fff" fill-opacity="0.21"/>
<circle cx="394.3" cy="252.3" r="0.55" fill="#fff" fill-opacity="0.18"/>
<circle cx="347.0" cy="303.6" r="0.40" fill="#fff" fill-opacity="0.11"/>
<circle cx="343.0" cy="282.7" r="0.65" fill="#fff" fill-opacity="0.25"/>
<circle cx="374.8" cy="256.5" r="0.30" fill="#fff" fill-opacity="0.22"/>
<circle cx="391.5" cy="262.5" r="0.56" fill="#fff" fill-opacity="0.18"/>
<circle cx="430.5" cy="289.3" r="0.40" fill="#fff" fill-opacity="0.28"/>
<circle cx="337.6" cy="275.2" r="0.46" fill="#fff" fill-opacity="0.13"/>
<circle cx="339.1" cy="292.5" r="0.30" fill="#fff" fill-opacity="0.20"/>
<circle cx="430.9" cy="248.0" r="0.38" fill="#fff" fill-opacity="0.21"/>
<circle cx="385.7" cy="282.9" r="0.63" fill="#fff" fill-opacity="0.12"/>
<circle cx="365.2" cy="259.0" r="0.32" fill="#fff" fill-opacity="0.28"/>
<circle cx="414.4" cy="288.1" r="0.30" fill="#fff" fill-opacity="0.27"/>
<circle cx="410.5" cy="270.6" r="0.60" fill="#fff" fill-opacity="0.18"/>
<circle cx="356.5" cy="245.4" r="0.39" fill="#fff" fill-opacity="0.09"/>
<circle cx="367.9" cy="290.5" r="0.58" fill="#fff" fill-opacity="0.27"/>
<circle cx="407.0" cy="256.6" r="0.52" fill="#fff" fill-opacity="0.18"/>
<circle cx="415.0" cy="274.6" r="0.41" fill="#fff" fill-opacity="0.22"/>
<circle cx="433.4" cy="253.2" r="0.65" fill="#fff" fill-opacity="0.08"/>
<circle cx="360.1" cy="254.5" r="0.60" fill="#fff" fill-opacity="0.29"/>
<circle cx="410.6" cy="260.9" r="0.65" fill="#fff" fill-opacity="0.15"/>
<circle cx="357.9" cy="301.5" r="0.55" fill="#fff" fill-opacity="0.23"/>
<circle cx="402.2" cy="306.5" r="0.49" fill="#fff" fill-opacity="0.26"/>
<circle cx="405.6" cy="298.0" r="0.47" fill="#fff" fill-opacity="0.24"/>
<circle cx="392.3" cy="259.5" r="0.38" fill="#fff" fill-opacity="0.22"/>
<circle cx="341.1" cy="301.8" r="0.36" fill="#fff" fill-opacity="0.09"/>
<circle cx="344.1" cy="303.0" r="0.44" fill="#fff" fill-opacity="0.11"/>
<circle cx="336.0" cy="240.9" r="0.58" fill="#fff" fill-opacity="0.22"/>
<circle cx="405.5" cy="289.6" r="0.33" fill="#fff" fill-opacity="0.21"/>
<circle cx="370.8" cy="295.2" r="0.63" fill="#fff" fill-opacity="0.28"/>
<circle cx="339.9" cy="298.7" r="0.67" fill="#fff" fill-opacity="0.29"/>
<circle cx="344.1" cy="252.4" r="0.34" fill="#fff" fill-opacity="0.09"/>
<circle cx="421.2" cy="294.8" r="0.55" fill="#fff" fill-opacity="0.26"/>
<circle cx="398.7" cy="258.1" r="0.34" fill="#fff" fill-opacity="0.10"/>
<circle cx="411.8" cy="252.3" r="0.43" fill="#fff" fill-opacity="0.17"/>
<circle cx="335.2" cy="256.0" r="0.41" fill="#fff" fill-opacity="0.24"/>
<circle cx="371.3" cy="260.5" r="0.69" fill="#fff" fill-opacity="0.19"/>
<circle cx="421.5" cy="281.3" r="0.31" fill="#fff" fill-opacity="0.17"/>
<circle cx="378.4" cy="292.1" r="0.44" fill="#fff" fill-opacity="0.24"/>
<circle cx="388.9" cy="253.2" r="0.64" fill="#fff" fill-opacity="0.10"/>
<circle cx="418.3" cy="249.9" r="0.30" fill="#fff" fill-opacity="0.12"/>
<circle cx="412.3" cy="306.5" r="0.30" fill="#fff" fill-opacity="0.19"/>
<circle cx="384.1" cy="293.8" r="0.37" fill="#fff" fill-opacity="0.19"/>
<circle cx="369.1" cy="296.2" r="0.40" fill="#fff" fill-opacity="0.29"/>
<circle cx="362.5" cy="253.0" r="0.58" fill="#fff" fill-opacity="0.19"/>
<circle cx="344.4" cy="282.6" r="0.33" fill="#fff" fill-opacity="0.25"/>
<circle cx="405.5" cy="293.1" r="0.55" fill="#fff" fill-opacity="0.16"/>
<circle cx="374.7" cy="265.6" r="0.66" fill="#fff" fill-opacity="0.10"/>
<circle cx="425.4" cy="239.8" r="0.38" fill="#fff" fill-opacity="0.14"/>
<circle cx="426.7" cy="273.1" r="0.45" fill="#fff" fill-opacity="0.27"/>
</g></g>
<rect x="331.50" y="309.50" width="106.50" height="73.00" fill="#4e4e4e" stroke="none" stroke-width="1"/>
<g clip-path="url(#c2)">
<rect x="331.5" y="309.5" width="106.5" height="73" fill="url(#vg2)"/>
<rect x="331.5" y="309.5" width="106.5" height="73" filter="url(#nz)" opacity="0.12"/>
<ellipse cx="389.5" cy="345" rx="36" ry="31" fill="url(#g3)"/>
<g filter="url(#bl)">
<circle cx="390.9" cy="357.7" r="0.85" fill="#eee" fill-opacity="0.34"/>
<circle cx="389.8" cy="328.4" r="0.73" fill="#eee" fill-opacity="0.20"/>
<circle cx="403.0" cy="363.3" r="0.93" fill="#eee" fill-opacity="0.34"/>
<circle cx="396.0" cy="355.8" r="1.00" fill="#eee" fill-opacity="0.29"/>
<circle cx="399.3" cy="354.1" r="1.08" fill="#eee" fill-opacity="0.18"/>
<circle cx="393.3" cy="354.1" r="0.96" fill="#eee" fill-opacity="0.37"/>
<circle cx="393.6" cy="350.5" r="0.66" fill="#eee" fill-opacity="0.20"/>
<circle cx="382.2" cy="344.1" r="0.71" fill="#eee" fill-opacity="0.16"/>
<circle cx="409.4" cy="342.1" r="0.57" fill="#eee" fill-opacity="0.41"/>
<circle cx="399.4" cy="351.8" r="1.14" fill="#eee" fill-opacity="0.35"/>
<circle cx="388.1" cy="332.8" r="0.63" fill="#eee" fill-opacity="0.30"/>
<circle cx="396.2" cy="349.9" r="0.75" fill="#eee" fill-opacity="0.11"/>
<circle cx="371.7" cy="357.1" r="0.95" fill="#eee" fill-opacity="0.26"/>
<circle cx="380.1" cy="335.5" r="0.59" fill="#eee" fill-opacity="0.29"/>
<circle cx="372.5" cy="355.7" r="1.09" fill="#eee" fill-opacity="0.24"/>
<circle cx="370.9" cy="336.4" r="0.77" fill="#eee" fill-opacity="0.17"/>
<circle cx="385.0" cy="321.7" r="1.00" fill="#eee" fill-opacity="0.32"/>
<circle cx="400.8" cy="331.1" r="0.92" fill="#eee" fill-opacity="0.25"/>
<circle cx="382.7" cy="359.9" r="0.56" fill="#eee" fill-opacity="0.23"/>
<circle cx="393.5" cy="327.2" r="0.91" fill="#eee" fill-opacity="0.18"/>
<circle cx="377.3" cy="350.9" r="0.90" fill="#eee" fill-opacity="0.23"/>
<circle cx="376.4" cy="321.3" r="0.62" fill="#eee" fill-opacity="0.31"/>
<circle cx="391.7" cy="333.8" r="0.82" fill="#eee" fill-opacity="0.41"/>
<circle cx="404.7" cy="348.4" r="0.60" fill="#eee" fill-opacity="0.35"/>
<circle cx="403.6" cy="339.9" r="0.57" fill="#eee" fill-opacity="0.28"/>
<circle cx="370.3" cy="340.3" r="0.83" fill="#eee" fill-opacity="0.30"/>
<circle cx="396.7" cy="332.7" r="0.77" fill="#eee" fill-opacity="0.40"/>
<circle cx="394.2" cy="361.9" r="0.76" fill="#eee" fill-opacity="0.34"/>
<circle cx="415.4" cy="368.1" r="0.73" fill="#eee" fill-opacity="0.12"/>
<circle cx="387.6" cy="356.5" r="0.51" fill="#eee" fill-opacity="0.23"/>
<circle cx="372.5" cy="353.5" r="0.73" fill="#eee" fill-opacity="0.18"/>
<circle cx="392.8" cy="363.7" r="1.11" fill="#eee" fill-opacity="0.27"/>
<circle cx="393.9" cy="365.3" r="0.75" fill="#eee" fill-opacity="0.17"/>
<circle cx="404.4" cy="359.5" r="1.03" fill="#eee" fill-opacity="0.30"/>
<circle cx="373.7" cy="347.8" r="0.65" fill="#eee" fill-opacity="0.41"/>
<circle cx="378.7" cy="358.1" r="1.03" fill="#eee" fill-opacity="0.36"/>
<circle cx="379.3" cy="346.9" r="0.86" fill="#eee" fill-opacity="0.14"/>
<circle cx="395.4" cy="335.7" r="1.05" fill="#eee" fill-opacity="0.19"/>
<circle cx="382.7" cy="351.2" r="0.78" fill="#eee" fill-opacity="0.16"/>
<circle cx="409.5" cy="345.3" r="0.68" fill="#eee" fill-opacity="0.18"/>
<circle cx="384.9" cy="357.5" r="0.78" fill="#eee" fill-opacity="0.30"/>
<circle cx="383.1" cy="335.8" r="1.10" fill="#eee" fill-opacity="0.37"/>
<circle cx="411.5" cy="352.6" r="1.09" fill="#eee" fill-opacity="0.35"/>
<circle cx="404.5" cy="361.8" r="0.91" fill="#eee" fill-opacity="0.10"/>
<circle cx="420.2" cy="347.0" r="0.93" fill="#eee" fill-opacity="0.18"/>
<circle cx="395.1" cy="348.8" r="0.65" fill="#eee" fill-opacity="0.35"/>
<circle cx="385.4" cy="350.4" r="1.09" fill="#eee" fill-opacity="0.35"/>
<circle cx="402.5" cy="366.1" r="0.90" fill="#eee" fill-opacity="0.35"/>
<circle cx="376.5" cy="323.8" r="1.01" fill="#eee" fill-opacity="0.37"/>
<circle cx="395.7" cy="361.7" r="0.85" fill="#eee" fill-opacity="0.34"/>
<circle cx="365.5" cy="354.0" r="0.86" fill="#eee" fill-opacity="0.18"/>
<circle cx="390.2" cy="351.3" r="0.82" fill="#eee" fill-opacity="0.12"/>
<circle cx="382.7" cy="346.3" r="0.82" fill="#eee" fill-opacity="0.26"/>
<circle cx="365.3" cy="339.4" r="0.50" fill="#eee" fill-opacity="0.37"/>
<circle cx="373.8" cy="348.0" r="0.93" fill="#eee" fill-opacity="0.37"/>
<circle cx="380.3" cy="353.5" r="1.12" fill="#eee" fill-opacity="0.12"/>
<circle cx="377.9" cy="332.6" r="0.52" fill="#eee" fill-opacity="0.30"/>
<circle cx="377.6" cy="320.7" r="0.71" fill="#eee" fill-opacity="0.41"/>
<circle cx="375.1" cy="344.1" r="1.08" fill="#eee" fill-opacity="0.11"/>
<circle cx="386.0" cy="329.2" r="0.72" fill="#eee" fill-opacity="0.38"/>
<circle cx="380.0" cy="354.7" r="0.84" fill="#eee" fill-opacity="0.35"/>
<circle cx="392.8" cy="356.9" r="0.77" fill="#eee" fill-opacity="0.28"/>
<circle cx="394.3" cy="336.5" r="1.04" fill="#eee" fill-opacity="0.23"/>
<circle cx="379.5" cy="344.8" r="0.83" fill="#eee" fill-opacity="0.41"/>
<circle cx="377.0" cy="328.2" r="0.72" fill="#eee" fill-opacity="0.20"/>
<circle cx="384.4" cy="359.6" r="0.91" fill="#eee" fill-opacity="0.35"/>
<circle cx="408.9" cy="349.6" r="1.08" fill="#eee" fill-opacity="0.27"/>
<circle cx="399.6" cy="348.0" r="0.50" fill="#eee" fill-opacity="0.16"/>
<circle cx="404.6" cy="337.5" r="0.93" fill="#eee" fill-opacity="0.35"/>
<circle cx="404.0" cy="336.5" r="0.90" fill="#eee" fill-opacity="0.30"/>
<circle cx="383.9" cy="330.4" r="0.94" fill="#eee" fill-opacity="0.17"/>
<circle cx="382.6" cy="334.0" r="1.00" fill="#eee" fill-opacity="0.13"/>
<circle cx="390.9" cy="347.9" r="1.00" fill="#eee" fill-opacity="0.39"/>
<circle cx="382.8" cy="335.8" r="1.03" fill="#eee" fill-opacity="0.35"/>
<circle cx="380.6" cy="341.6" r="0.70" fill="#eee" fill-opacity="0.23"/>
<circle cx="384.0" cy="356.1" r="0.92" fill="#eee" fill-opacity="0.40"/>
<circle cx="404.7" cy="350.0" r="0.53" fill="#eee" fill-opacity="0.14"/>
<circle cx="395.6" cy="331.0" r="1.10" fill="#eee" fill-opacity="0.24"/>
<circle cx="401.8" cy="346.0" r="0.88" fill="#eee" fill-opacity="0.40"/>
<circle cx="403.6" cy="343.4" r="0.77" fill="#eee" fill-opacity="0.13"/>
<circle cx="384.2" cy="338.7" r="0.60" fill="#eee" fill-opacity="0.10"/>
<circle cx="408.5" cy="345.5" r="0.58" fill="#eee" fill-opacity="0.41"/>
<circle cx="411.0" cy="357.2" r="0.58" fill="#eee" fill-opacity="0.11"/>
<circle cx="387.7" cy="336.6" r="0.98" fill="#eee" fill-opacity="0.16"/>
<circle cx="410.0" cy="351.1" r="0.96" fill="#eee" fill-opacity="0.37"/>
<circle cx="388.8" cy="340.2" r="0.91" fill="#eee" fill-opacity="0.33"/>
<circle cx="361.4" cy="351.5" r="0.67" fill="#eee" fill-opacity="0.41"/>
<circle cx="389.1" cy="343.3" r="0.51" fill="#eee" fill-opacity="0.31"/>
<circle cx="391.6" cy="340.7" r="0.70" fill="#eee" fill-opacity="0.33"/>
<circle cx="402.0" cy="364.7" r="0.82" fill="#eee" fill-opacity="0.12"/>
<circle cx="378.5" cy="356.1" r="0.79" fill="#eee" fill-opacity="0.32"/>
<circle cx="403.2" cy="361.2" r="0.74" fill="#eee" fill-opacity="0.31"/>
<circle cx="380.6" cy="336.3" r="0.75" fill="#eee" fill-opacity="0.35"/>
<circle cx="410.1" cy="338.2" r="0.87" fill="#eee" fill-opacity="0.19"/>
<circle cx="420.8" cy="356.6" r="0.96" fill="#eee" fill-opacity="0.36"/>
<circle cx="381.1" cy="358.7" r="1.14" fill="#eee" fill-opacity="0.37"/>
<circle cx="380.9" cy="339.1" r="0.78" fill="#eee" fill-opacity="0.38"/>
<circle cx="375.9" cy="357.2" r="0.89" fill="#eee" fill-opacity="0.39"/>
<circle cx="393.1" cy="336.2" r="0.50" fill="#eee" fill-opacity="0.18"/>
<circle cx="374.8" cy="352.2" r="1.03" fill="#eee" fill-opacity="0.38"/>
<circle cx="412.3" cy="350.7" r="1.03" fill="#eee" fill-opacity="0.38"/>
<circle cx="380.5" cy="341.0" r="1.05" fill="#eee" fill-opacity="0.36"/>
<circle cx="378.5" cy="321.7" r="0.73" fill="#eee" fill-opacity="0.13"/>
<circle cx="368.4" cy="338.2" r="0.63" fill="#eee" fill-opacity="0.34"/>
<circle cx="397.8" cy="341.5" r="0.89" fill="#eee" fill-opacity="0.32"/>
<circle cx="381.2" cy="346.7" r="0.67" fill="#eee" fill-opacity="0.34"/>
<circle cx="393.1" cy="332.7" r="0.56" fill="#eee" fill-opacity="0.36"/>
<circle cx="390.8" cy="336.7" r="0.88" fill="#eee" fill-opacity="0.39"/>
<circle cx="400.9" cy="335.8" r="0.81" fill="#eee" fill-opacity="0.29"/>
<circle cx="392.5" cy="352.0" r="0.62" fill="#eee" fill-opacity="0.32"/>
<circle cx="379.0" cy="356.3" r="0.76" fill="#eee" fill-opacity="0.27"/>
<circle cx="391.7" cy="347.8" r="1.15" fill="#eee" fill-opacity="0.22"/>
<circle cx="403.4" cy="355.1" r="1.01" fill="#eee" fill-opacity="0.15"/>
<circle cx="380.1" cy="338.9" r="0.84" fill="#eee" fill-opacity="0.11"/>
<circle cx="426.8" cy="352.3" r="1.06" fill="#eee" fill-opacity="0.26"/>
<circle cx="380.6" cy="341.3" r="1.01" fill="#eee" fill-opacity="0.24"/>
<circle cx="409.6" cy="338.5" r="1.03" fill="#eee" fill-opacity="0.41"/>
<circle cx="389.4" cy="348.2" r="0.63" fill="#eee" fill-opacity="0.16"/>
<circle cx="393.0" cy="346.9" r="0.86" fill="#eee" fill-opacity="0.38"/>
<circle cx="360.2" cy="352.2" r="1.09" fill="#eee" fill-opacity="0.12"/>
<circle cx="379.2" cy="338.3" r="0.58" fill="#eee" fill-opacity="0.41"/>
<circle cx="388.8" cy="359.8" r="0.92" fill="#eee" fill-opacity="0.41"/>
<circle cx="383.5" cy="334.9" r="0.79" fill="#eee" fill-opacity="0.15"/>
<circle cx="427.3" cy="337.4" r="0.64" fill="#eee" fill-opacity="0.11"/>
<circle cx="389.1" cy="355.7" r="1.09" fill="#eee" fill-opacity="0.39"/>
<circle cx="391.5" cy="342.0" r="1.01" fill="#eee" fill-opacity="0.33"/>
<circle cx="367.5" cy="318.4" r="0.54" fill="#eee" fill-opacity="0.15"/>
<circle cx="390.4" cy="317.8" r="0.94" fill="#eee" fill-opacity="0.20"/>
<circle cx="371.8" cy="334.5" r="0.57" fill="#eee" fill-opacity="0.20"/>
<circle cx="389.2" cy="350.9" r="0.81" fill="#eee" fill-opacity="0.15"/>
<circle cx="390.0" cy="351.4" r="0.94" fill="#eee" fill-opacity="0.10"/>
<circle cx="387.8" cy="337.6" r="0.52" fill="#eee" fill-opacity="0.40"/>
<circle cx="394.9" cy="371.4" r="1.06" fill="#eee" fill-opacity="0.38"/>
<circle cx="398.2" cy="354.6" r="0.56" fill="#eee" fill-opacity="0.40"/>
<circle cx="399.1" cy="331.5" r="0.79" fill="#eee" fill-opacity="0.21"/>
<circle cx="395.8" cy="333.3" r="0.91" fill="#eee" fill-opacity="0.15"/>
<circle cx="390.3" cy="348.9" r="0.96" fill="#eee" fill-opacity="0.28"/>
<circle cx="405.0" cy="363.4" r="0.67" fill="#eee" fill-opacity="0.23"/>
<circle cx="395.1" cy="352.6" r="1.05" fill="#eee" fill-opacity="0.21"/>
<circle cx="396.7" cy="356.6" r="0.71" fill="#eee" fill-opacity="0.39"/>
<circle cx="415.6" cy="366.0" r="0.54" fill="#eee" fill-opacity="0.39"/>
<circle cx="385.3" cy="338.1" r="0.81" fill="#eee" fill-opacity="0.19"/>
<circle cx="389.1" cy="352.7" r="0.74" fill="#eee" fill-opacity="0.42"/>
<circle cx="418.0" cy="344.7" r="0.56" fill="#eee" fill-opacity="0.19"/>
<circle cx="392.9" cy="342.6" r="0.97" fill="#eee" fill-opacity="0.19"/>
<circle cx="391.7" cy="344.7" r="1.02" fill="#eee" fill-opacity="0.21"/>
<circle cx="390.0" cy="345.6" r="1.04" fill="#eee" fill-opacity="0.27"/>
<circle cx="394.7" cy="356.3" r="1.09" fill="#eee" fill-opacity="0.17"/>
<circle cx="383.4" cy="342.3" r="0.62" fill="#eee" fill-opacity="0.35"/>
<circle cx="387.5" cy="337.6" r="0.55" fill="#eee" fill-opacity="0.13"/>
<circle cx="378.1" cy="336.5" r="0.68" fill="#eee" fill-opacity="0.17"/>
<circle cx="374.6" cy="333.3" r="1.03" fill="#eee" fill-opacity="0.29"/>
<circle cx="390.9" cy="349.1" r="0.98" fill="#eee" fill-opacity="0.23"/>
<circle cx="388.8" cy="341.2" r="1.03" fill="#eee" fill-opacity="0.21"/>
<circle cx="403.1" cy="325.7" r="0.82" fill="#eee" fill-opacity="0.10"/>
<circle cx="401.5" cy="338.0" r="1.07" fill="#eee" fill-opacity="0.19"/>
<circle cx="398.7" cy="365.0" r="0.74" fill="#eee" fill-opacity="0.15"/>
<circle cx="377.9" cy="356.2" r="0.50" fill="#eee" fill-opacity="0.27"/>
<circle cx="375.3" cy="349.6" r="0.58" fill="#eee" fill-opacity="0.33"/>
<circle cx="399.7" cy="323.9" r="0.71" fill="#eee" fill-opacity="0.33"/>
<circle cx="374.2" cy="358.0" r="0.54" fill="#eee" fill-opacity="0.38"/>
<circle cx="403.5" cy="341.2" r="0.83" fill="#eee" fill-opacity="0.27"/>
<circle cx="387.0" cy="344.5" r="1.13" fill="#eee" fill-opacity="0.17"/>
<circle cx="391.9" cy="349.9" r="0.66" fill="#eee" fill-opacity="0.36"/>
<circle cx="395.0" cy="346.0" r="0.95" fill="#eee" fill-opacity="0.16"/>
<circle cx="406.3" cy="346.7" r="0.87" fill="#eee" fill-opacity="0.27"/>
<circle cx="387.8" cy="339.9" r="1.07" fill="#eee" fill-opacity="0.33"/>
<circle cx="395.6" cy="346.7" r="0.82" fill="#eee" fill-opacity="0.26"/>
<circle cx="388.3" cy="350.8" r="0.76" fill="#eee" fill-opacity="0.14"/>
<circle cx="368.7" cy="332.5" r="0.60" fill="#eee" fill-opacity="0.28"/>
<circle cx="389.3" cy="338.1" r="1.04" fill="#eee" fill-opacity="0.40"/>
<circle cx="379.5" cy="352.7" r="1.05" fill="#eee" fill-opacity="0.27"/>
<circle cx="365.9" cy="361.7" r="1.00" fill="#eee" fill-opacity="0.21"/>
<circle cx="390.2" cy="355.4" r="0.78" fill="#eee" fill-opacity="0.41"/>
<circle cx="398.8" cy="321.1" r="1.03" fill="#eee" fill-opacity="0.37"/>
<circle cx="403.7" cy="349.6" r="1.12" fill="#eee" fill-opacity="0.40"/>
<circle cx="389.6" cy="357.0" r="0.91" fill="#eee" fill-opacity="0.22"/>
<circle cx="384.9" cy="344.2" r="0.78" fill="#eee" fill-opacity="0.26"/>
<circle cx="396.3" cy="345.8" r="1.13" fill="#eee" fill-opacity="0.35"/>
<circle cx="405.8" cy="338.7" r="1.03" fill="#eee" fill-opacity="0.38"/>
<circle cx="392.0" cy="343.0" r="0.92" fill="#eee" fill-opacity="0.19"/>
<circle cx="385.2" cy="336.7" r="0.85" fill="#eee" fill-opacity="0.40"/>
<circle cx="382.6" cy="339.0" r="0.84" fill="#eee" fill-opacity="0.24"/>
<circle cx="399.3" cy="342.1" r="0.70" fill="#eee" fill-opacity="0.31"/>
<circle cx="401.7" cy="355.6" r="1.12" fill="#eee" fill-opacity="0.26"/>
<circle cx="387.9" cy="357.8" r="0.85" fill="#eee" fill-opacity="0.15"/>
<circle cx="394.2" cy="349.3" r="0.69" fill="#eee" fill-opacity="0.23"/>
<circle cx="387.3" cy="353.3" r="0.56" fill="#eee" fill-opacity="0.27"/>
<circle cx="398.7" cy="331.7" r="0.87" fill="#eee" fill-opacity="0.31"/>
<circle cx="395.4" cy="362.3" r="0.80" fill="#eee" fill-opacity="0.28"/>
<circle cx="378.8" cy="336.6" r="0.70" fill="#eee" fill-opacity="0.18"/>
<circle cx="392.2" cy="358.6" r="0.75" fill="#eee" fill-opacity="0.29"/>
<circle cx="401.1" cy="345.8" r="1.06" fill="#eee" fill-opacity="0.18"/>
<circle cx="375.9" cy="340.3" r="0.69" fill="#eee" fill-opacity="0.42"/>
<circle cx="383.4" cy="364.0" r="0.60" fill="#eee" fill-opacity="0.12"/>
<circle cx="398.8" cy="336.0" r="0.54" fill="#eee" fill-opacity="0.22"/>
<circle cx="370.6" cy="351.9" r="0.57" fill="#eee" fill-opacity="0.17"/>
<circle cx="409.3" cy="340.2" r="0.60" fill="#eee" fill-opacity="0.21"/>
<circle cx="378.2" cy="358.8" r="0.90" fill="#eee" fill-opacity="0.37"/>
<circle cx="396.0" cy="332.5" r="0.98" fill="#eee" fill-opacity="0.34"/>
<circle cx="390.4" cy="332.0" r="1.01" fill="#eee" fill-opacity="0.33"/>
<circle cx="395.1" cy="341.9" r="1.07" fill="#eee" fill-opacity="0.10"/>
<circle cx="391.1" cy="329.8" r="0.82" fill="#eee" fill-opacity="0.41"/>
<circle cx="377.8" cy="339.8" r="1.01" fill="#eee" fill-opacity="0.38"/>
<circle cx="380.0" cy="338.0" r="0.79" fill="#eee" fill-opacity="0.25"/>
<circle cx="387.7" cy="335.6" r="0.75" fill="#eee" fill-opacity="0.28"/>
<circle cx="381.3" cy="351.7" r="1.01" fill="#eee" fill-opacity="0.37"/>
<circle cx="376.0" cy="345.0" r="0.62" fill="#eee" fill-opacity="0.20"/>
<circle cx="399.5" cy="356.9" r="0.88" fill="#eee" fill-opacity="0.13"/>
<circle cx="399.2" cy="340.1" r="1.05" fill="#eee" fill-opacity="0.37"/>
<circle cx="397.7" cy="343.0" r="0.78" fill="#eee" fill-opacity="0.39"/>
<circle cx="393.4" cy="345.2" r="0.87" fill="#eee" fill-opacity="0.26"/>
<circle cx="408.4" cy="335.5" r="0.85" fill="#eee" fill-opacity="0.42"/>
<circle cx="374.5" cy="343.5" r="0.95" fill="#eee" fill-opacity="0.22"/>
<circle cx="379.0" cy="357.0" r="0.73" fill="#eee" fill-opacity="0.40"/>
<circle cx="382.7" cy="332.4" r="0.56" fill="#eee" fill-opacity="0.22"/>
<circle cx="376.5" cy="353.6" r="0.87" fill="#eee" fill-opacity="0.38"/>
<circle cx="403.6" cy="342.1" r="0.79" fill="#eee" fill-opacity="0.30"/>
<circle cx="401.0" cy="344.7" r="0.84" fill="#eee" fill-opacity="0.36"/>
<circle cx="394.7" cy="353.8" r="1.14" fill="#eee" fill-opacity="0.36"/>
<circle cx="383.5" cy="344.6" r="1.08" fill="#eee" fill-opacity="0.32"/>
<circle cx="405.8" cy="313.4" r="1.08" fill="#eee" fill-opacity="0.23"/>
<circle cx="395.2" cy="352.9" r="0.83" fill="#eee" fill-opacity="0.26"/>
<circle cx="392.5" cy="351.8" r="0.91" fill="#eee" fill-opacity="0.29"/>
<circle cx="365.5" cy="374.2" r="0.91" fill="#eee" fill-opacity="0.11"/>
<circle cx="370.8" cy="355.7" r="0.70" fill="#eee" fill-opacity="0.32"/>
<circle cx="400.1" cy="345.2" r="1.05" fill="#eee" fill-opacity="0.29"/>
<circle cx="385.4" cy="338.4" r="0.82" fill="#eee" fill-opacity="0.28"/>
<circle cx="387.7" cy="361.5" r="0.85" fill="#eee" fill-opacity="0.42"/>
<circle cx="378.0" cy="339.7" r="0.58" fill="#eee" fill-opacity="0.15"/>
<circle cx="389.9" cy="339.5" r="0.57" fill="#eee" fill-opacity="0.15"/>
<circle cx="366.5" cy="342.0" r="0.90" fill="#eee" fill-opacity="0.36"/>
<circle cx="391.3" cy="345.7" r="1.00" fill="#eee" fill-opacity="0.20"/>
<circle cx="387.0" cy="334.5" r="0.61" fill="#eee" fill-opacity="0.19"/>
<circle cx="411.4" cy="359.6" r="0.88" fill="#eee" fill-opacity="0.21"/>
<circle cx="377.8" cy="348.5" r="0.54" fill="#eee" fill-opacity="0.38"/>
<circle cx="362.0" cy="330.5" r="0.79" fill="#eee" fill-opacity="0.30"/>
<circle cx="389.5" cy="348.4" r="1.11" fill="#eee" fill-opacity="0.37"/>
<circle cx="378.9" cy="367.6" r="1.03" fill="#eee" fill-opacity="0.20"/>
<circle cx="364.1" cy="327.5" r="0.82" fill="#eee" fill-opacity="0.40"/>
<circle cx="390.1" cy="356.4" r="0.97" fill="#eee" fill-opacity="0.17"/>
<circle cx="380.2" cy="366.9" r="0.81" fill="#eee" fill-opacity="0.35"/>
<circle cx="389.8" cy="352.1" r="0.73" fill="#eee" fill-opacity="0.16"/>
<circle cx="399.7" cy="343.3" r="0.86" fill="#eee" fill-opacity="0.14"/>
<circle cx="377.4" cy="342.6" r="0.76" fill="#eee" fill-opacity="0.12"/>
<circle cx="406.2" cy="360.0" r="0.73" fill="#eee" fill-opacity="0.18"/>
<circle cx="393.2" cy="353.8" r="0.65" fill="#eee" fill-opacity="0.11"/>
<circle cx="383.6" cy="336.0" r="0.60" fill="#eee" fill-opacity="0.33"/>
<circle cx="397.8" cy="350.0" r="1.04" fill="#eee" fill-opacity="0.14"/>
<circle cx="367.2" cy="352.6" r="1.02" fill="#eee" fill-opacity="0.15"/>
<circle cx="377.4" cy="359.7" r="0.74" fill="#eee" fill-opacity="0.41"/>
<circle cx="397.5" cy="372.3" r="0.83" fill="#eee" fill-opacity="0.17"/>
<circle cx="383.2" cy="346.8" r="0.96" fill="#eee" fill-opacity="0.18"/>
<circle cx="402.9" cy="336.0" r="0.74" fill="#eee" fill-opacity="0.18"/>
<circle cx="382.8" cy="340.0" r="1.07" fill="#eee" fill-opacity="0.14"/>
<circle cx="373.9" cy="343.8" r="0.68" fill="#eee" fill-opacity="0.35"/>
<circle cx="375.8" cy="356.1" r="0.87" fill="#eee" fill-opacity="0.20"/>
<circle cx="385.4" cy="348.1" r="0.62" fill="#eee" fill-opacity="0.37"/>
<circle cx="381.5" cy="360.3" r="0.57" fill="#eee" fill-opacity="0.28"/>
<circle cx="380.0" cy="355.4" r="0.69" fill="#eee" fill-opacity="0.12"/>
<circle cx="386.1" cy="352.6" r="0.58" fill="#eee" fill-opacity="0.33"/>
<circle cx="386.9" cy="356.4" r="1.09" fill="#eee" fill-opacity="0.35"/>
<circle cx="407.9" cy="329.6" r="0.59" fill="#eee" fill-opacity="0.19"/>
<circle cx="408.0" cy="348.2" r="0.93" fill="#eee" fill-opacity="0.21"/>
<circle cx="373.9" cy="353.8" r="0.95" fill="#eee" fill-opacity="0.18"/>
<circle cx="396.1" cy="336.2" r="0.91" fill="#eee" fill-opacity="0.16"/>
<circle cx="410.2" cy="361.8" r="0.98" fill="#eee" fill-opacity="0.33"/>
<circle cx="393.0" cy="345.8" r="0.61" fill="#eee" fill-opacity="0.16"/>
<circle cx="385.5" cy="355.6" r="0.53" fill="#eee" fill-opacity="0.20"/>
<circle cx="384.4" cy="339.5" r="1.05" fill="#eee" fill-opacity="0.28"/>
<circle cx="387.5" cy="336.4" r="0.78" fill="#eee" fill-opacity="0.32"/>
<circle cx="389.2" cy="345.4" r="1.04" fill="#eee" fill-opacity="0.35"/>
<circle cx="388.7" cy="348.3" r="1.06" fill="#eee" fill-opacity="0.29"/>
<circle cx="398.4" cy="347.5" r="0.57" fill="#eee" fill-opacity="0.35"/>
<circle cx="396.4" cy="369.7" r="0.99" fill="#eee" fill-opacity="0.13"/>
<circle cx="385.2" cy="334.2" r="0.99" fill="#eee" fill-opacity="0.37"/>
<circle cx="388.4" cy="349.9" r="1.12" fill="#eee" fill-opacity="0.24"/>
<circle cx="406.9" cy="337.5" r="0.98" fill="#eee" fill-opacity="0.37"/>
<circle cx="380.0" cy="335.9" r="0.54" fill="#eee" fill-opacity="0.32"/>
<circle cx="376.0" cy="351.0" r="1.10" fill="#eee" fill-opacity="0.14"/>
<circle cx="389.8" cy="341.6" r="0.96" fill="#eee" fill-opacity="0.36"/>
<circle cx="388.4" cy="359.4" r="1.13" fill="#eee" fill-opacity="0.30"/>
<circle cx="380.4" cy="342.6" r="0.54" fill="#eee" fill-opacity="0.21"/>
<circle cx="382.4" cy="349.1" r="0.70" fill="#eee" fill-opacity="0.14"/>
<circle cx="384.5" cy="328.5" r="0.65" fill="#eee" fill-opacity="0.18"/>
<circle cx="376.0" cy="343.8" r="1.11" fill="#eee" fill-opacity="0.21"/>
<circle cx="381.6" cy="367.8" r="0.59" fill="#eee" fill-opacity="0.28"/>
<circle cx="378.0" cy="363.3" r="0.86" fill="#eee" fill-opacity="0.34"/>
<circle cx="398.5" cy="359.9" r="0.89" fill="#eee" fill-opacity="0.25"/>
<circle cx="391.9" cy="323.4" r="0.57" fill="#eee" fill-opacity="0.19"/>
<circle cx="384.1" cy="351.0" r="0.54" fill="#eee" fill-opacity="0.19"/>
<circle cx="395.8" cy="361.9" r="0.79" fill="#eee" fill-opacity="0.14"/>
<circle cx="383.2" cy="356.5" r="0.74" fill="#eee" fill-opacity="0.15"/>
<circle cx="391.2" cy="345.7" r="1.14" fill="#eee" fill-opacity="0.34"/>
<circle cx="406.7" cy="354.2" r="1.14" fill="#eee" fill-opacity="0.28"/>
<circle cx="400.7" cy="353.4" r="0.78" fill="#eee" fill-opacity="0.16"/>
<circle cx="387.9" cy="344.6" r="1.10" fill="#eee" fill-opacity="0.31"/>
<circle cx="369.2" cy="325.6" r="0.92" fill="#eee" fill-opacity="0.18"/>
<circle cx="389.7" cy="351.3" r="0.52" fill="#eee" fill-opacity="0.35"/>
<circle cx="395.1" cy="336.8" r="0.62" fill="#eee" fill-opacity="0.30"/>
<circle cx="421.0" cy="375.9" r="0.37" fill="#fff" fill-opacity="0.19"/>
<circle cx="419.4" cy="363.0" r="0.43" fill="#fff" fill-opacity="0.11"/>
<circle cx="418.8" cy="333.4" r="0.45" fill="#fff" fill-opacity="0.16"/>
<circle cx="371.4" cy="369.2" r="0.40" fill="#fff" fill-opacity="0.09"/>
<circle cx="392.0" cy="355.0" r="0.63" fill="#fff" fill-opacity="0.18"/>
<circle cx="427.1" cy="377.1" r="0.50" fill="#fff" fill-opacity="0.15"/>
<circle cx="349.4" cy="332.0" r="0.53" fill="#fff" fill-opacity="0.09"/>
<circle cx="404.6" cy="322.5" r="0.48" fill="#fff" fill-opacity="0.22"/>
<circle cx="342.3" cy="313.8" r="0.48" fill="#fff" fill-opacity="0.11"/>
<circle cx="408.2" cy="311.2" r="0.64" fill="#fff" fill-opacity="0.20"/>
<circle cx="414.8" cy="340.8" r="0.41" fill="#fff" fill-opacity="0.17"/>
<circle cx="386.5" cy="340.5" r="0.44" fill="#fff" fill-opacity="0.14"/>
<circle cx="402.3" cy="368.8" r="0.66" fill="#fff" fill-opacity="0.10"/>
<circle cx="363.8" cy="342.0" r="0.53" fill="#fff" fill-opacity="0.13"/>
<circle cx="353.3" cy="317.0" r="0.43" fill="#fff" fill-opacity="0.14"/>
<circle cx="434.0" cy="374.6" r="0.65" fill="#fff" fill-opacity="0.22"/>
<circle cx="433.0" cy="354.4" r="0.62" fill="#fff" fill-opacity="0.09"/>
<circle cx="403.4" cy="353.6" r="0.42" fill="#fff" fill-opacity="0.16"/>
<circle cx="432.1" cy="344.7" r="0.56" fill="#fff" fill-opacity="0.12"/>
<circle cx="368.7" cy="373.0" r="0.31" fill="#fff" fill-opacity="0.11"/>
<circle cx="403.6" cy="342.3" r="0.33" fill="#fff" fill-opacity="0.17"/>
<circle cx="371.7" cy="351.7" r="0.47" fill="#fff" fill-opacity="0.15"/>
<circle cx="391.7" cy="338.7" r="0.35" fill="#fff" fill-opacity="0.11"/>
<circle cx="425.6" cy="349.4" r="0.34" fill="#fff" fill-opacity="0.20"/>
<circle cx="359.4" cy="317.6" r="0.51" fill="#fff" fill-opacity="0.12"/>
<circle cx="383.9" cy="349.8" r="0.39" fill="#fff" fill-opacity="0.16"/>
<circle cx="344.8" cy="346.9" r="0.54" fill="#fff" fill-opacity="0.09"/>
<circle cx="375.4" cy="316.1" r="0.48" fill="#fff" fill-opacity="0.20"/>
<circle cx="390.3" cy="361.0" r="0.60" fill="#fff" fill-opacity="0.10"/>
<circle cx="436.0" cy="361.5" r="0.34" fill="#fff" fill-opacity="0.20"/>
<circle cx="373.8" cy="323.0" r="0.68" fill="#fff" fill-opacity="0.16"/>
<circle cx="413.6" cy="320.6" r="0.61" fill="#fff" fill-opacity="0.09"/>
<circle cx="357.6" cy="337.1" r="0.31" fill="#fff" fill-opacity="0.16"/>
<circle cx="355.2" cy="332.0" r="0.58" fill="#fff" fill-opacity="0.14"/>
<circle cx="425.4" cy="354.5" r="0.65" fill="#fff" fill-opacity="0.16"/>
<circle cx="428.4" cy="372.0" r="0.37" fill="#fff" fill-opacity="0.18"/>
<circle cx="368.5" cy="364.5" r="0.57" fill="#fff" fill-opacity="0.20"/>
<circle cx="345.8" cy="337.1" r="0.59" fill="#fff" fill-opacity="0.21"/>
<circle cx="408.1" cy="314.0" r="0.54" fill="#fff" fill-opacity="0.09"/>
<circle cx="390.1" cy="367.2" r="0.35" fill="#fff" fill-opacity="0.21"/>
<circle cx="403.2" cy="328.8" r="0.38" fill="#fff" fill-opacity="0.14"/>
<circle cx="420.2" cy="351.7" r="0.35" fill="#fff" fill-opacity="0.08"/>
<circle cx="344.5" cy="367.0" r="0.37" fill="#fff" fill-opacity="0.16"/>
<circle cx="363.2" cy="359.1" r="0.45" fill="#fff" fill-opacity="0.10"/>
<circle cx="424.0" cy="348.7" r="0.58" fill="#fff" fill-opacity="0.19"/>
<circle cx="431.7" cy="312.0" r="0.44" fill="#fff" fill-opacity="0.10"/>
<circle cx="385.2" cy="372.1" r="0.62" fill="#fff" fill-opacity="0.08"/>
<circle cx="352.0" cy="368.3" r="0.57" fill="#fff" fill-opacity="0.13"/>
<circle cx="382.5" cy="322.1" r="0.64" fill="#fff" fill-opacity="0.14"/>
<circle cx="423.8" cy="353.8" r="0.33" fill="#fff" fill-opacity="0.13"/>
<circle cx="355.5" cy="373.6" r="0.54" fill="#fff" fill-opacity="0.09"/>
<circle cx="350.7" cy="336.3" r="0.49" fill="#fff" fill-opacity="0.16"/>
<circle cx="373.3" cy="335.8" r="0.30" fill="#fff" fill-opacity="0.16"/>
<circle cx="367.7" cy="312.4" r="0.48" fill="#fff" fill-opacity="0.22"/>
<circle cx="337.7" cy="321.2" r="0.57" fill="#fff" fill-opacity="0.12"/>
<circle cx="361.4" cy="346.0" r="0.40" fill="#fff" fill-opacity="0.16"/>
<circle cx="387.9" cy="378.0" r="0.70" fill="#fff" fill-opacity="0.08"/>
<circle cx="391.3" cy="365.0" r="0.65" fill="#fff" fill-opacity="0.19"/>
<circle cx="398.8" cy="355.4" r="0.45" fill="#fff" fill-opacity="0.12"/>
<circle cx="415.7" cy="372.1" r="0.68" fill="#fff" fill-opacity="0.18"/>
<circle cx="433.5" cy="374" r="1.3" fill="#fff" fill-opacity="0.6"/>
</g></g>
<rect x="331.60" y="237.20" width="106.20" height="145.20" fill="none" stroke="#000" stroke-width="1.8"/>
<line x1="331.00" y1="309.80" x2="438.50" y2="309.80" stroke="#000" stroke-width="1.8" />
</svg>
</body></html>
